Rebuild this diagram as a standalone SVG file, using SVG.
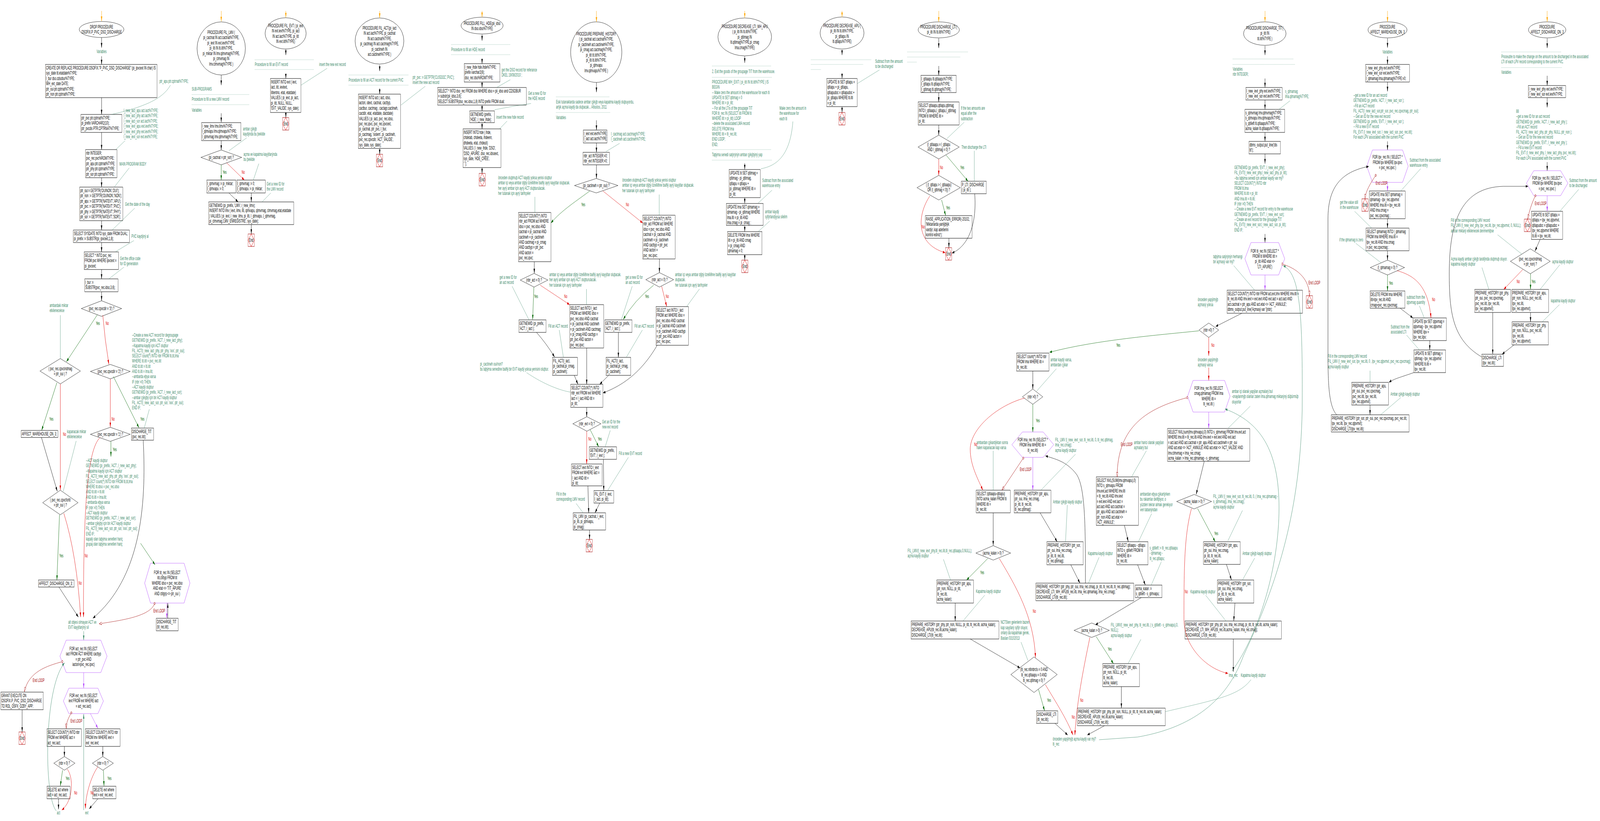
<svg xmlns="http://www.w3.org/2000/svg" width="7876" height="2102" viewBox="0 0 7876 2102" preserveAspectRatio="none" style="width:100vw;height:100vh">
<style>
text{font-family:"Liberation Sans",Arial,sans-serif;font-size:12px;fill:#000}
.c{fill:#3c8a6a}
.m{text-anchor:middle}
.y{fill:#006400}
.r{fill:#e00000}
.el{fill:#a00000}
.b{fill:#fff;stroke:#000;stroke-width:1}
.hx{fill:#fff;stroke:#b347ff;stroke-width:1}
.en{fill:#fff;stroke:#a00000}
.ed{fill:none;stroke:#e00000}
.a{fill:none;stroke:#000;marker-end:url(#ab)}
.ag{fill:none;stroke:#006400;marker-end:url(#ag)}
.ar{fill:none;stroke:#e00000;marker-end:url(#ar)}
.ap{fill:none;stroke:#b347ff;marker-end:url(#ap)}
.ao{fill:none;stroke:#ffa500;stroke-width:1.5;marker-end:url(#ao)}
.at{fill:none;stroke:#3c8a6a;marker-end:url(#at)}
.cl{fill:none;stroke:#3c8a6a;stroke-width:.8}
.dl{fill:none;stroke:#3c8a6a;stroke-width:.8;stroke-dasharray:2 2}
.lp{fill:none;stroke:#a00000;marker-start:url(#lc);marker-end:url(#lo)}
</style>
<defs>
<marker id="ab" viewBox="0 0 12 8" refX="12" refY="4" markerWidth="12" markerHeight="8" orient="auto" markerUnits="userSpaceOnUse"><path d="M0,0.5 L12,4 L0,7.5 z" fill="#000"/></marker>
<marker id="ag" viewBox="0 0 12 8" refX="12" refY="4" markerWidth="12" markerHeight="8" orient="auto" markerUnits="userSpaceOnUse"><path d="M0,0.5 L12,4 L0,7.5 z" fill="#006400"/></marker>
<marker id="ar" viewBox="0 0 12 8" refX="12" refY="4" markerWidth="12" markerHeight="8" orient="auto" markerUnits="userSpaceOnUse"><path d="M0,0.5 L12,4 L0,7.5 z" fill="#e00000"/></marker>
<marker id="ap" viewBox="0 0 12 8" refX="12" refY="4" markerWidth="12" markerHeight="8" orient="auto" markerUnits="userSpaceOnUse"><path d="M0,0.5 L12,4 L0,7.5 z" fill="#b347ff"/></marker>
<marker id="ao" viewBox="0 0 12 8" refX="12" refY="4" markerWidth="12" markerHeight="8" orient="auto" markerUnits="userSpaceOnUse"><path d="M0,0.5 L12,4 L0,7.5 z" fill="#ffa500"/></marker>
<marker id="at" viewBox="0 0 12 8" refX="12" refY="4" markerWidth="12" markerHeight="8" orient="auto" markerUnits="userSpaceOnUse"><path d="M0,0.5 L12,4 L0,7.5 z" fill="#3c8a6a"/></marker>
<marker id="lo" viewBox="0 0 12 8" refX="12" refY="4" markerWidth="12" markerHeight="8" orient="auto" markerUnits="userSpaceOnUse"><path d="M0.5,0.5 L12,4 L0.5,7.5 z" fill="#fff" stroke="#a00000"/></marker>
<marker id="lc" viewBox="0 0 8 8" refX="4" refY="4" markerWidth="8" markerHeight="8" orient="auto" markerUnits="userSpaceOnUse"><circle cx="4" cy="4" r="3" fill="#fff" stroke="#a00000"/></marker>
</defs>
<rect width="7876" height="2102" fill="#fff"/>

<!-- ===================== F1 DROP PROCEDURE ===================== -->
<g id="f1-start"><ellipse class="b" cx="500" cy="75.5" rx="110" ry="20.5"/><text class="m" x="500" y="73">DROP PROCEDURE<tspan x="500" dy="13">OSOFIX.P_PVC_DSO_DISCHARGE</tspan></text></g>
<g id="f1-var"><text class="c m" x="500" y="136">Variables</text></g>
<g id="f1-n1"><rect class="b" x="224" y="165" width="549" height="85"/><text x="227" y="178">CREATE OR REPLACE PROCEDURE OSOFIX."P_PVC_DSO_DISCHARGE" (pi_ipvcext IN char) IS<tspan x="227" dy="13.4">sys_date  tit.etatdate%TYPE;</tspan><tspan x="227" dy="13.4">l_bur dso.cdsobur%TYPE;</tspan><tspan x="227" dy="13.4">WH_ext_date DATE;</tspan><tspan x="227" dy="13.4">ptr_oui ptr.cptrnat%TYPE;</tspan><tspan x="227" dy="13.4">ptr_non ptr.cptrnat%TYPE;</tspan></text></g>
<g id="f1-c1"><text class="c" x="785" y="212">ptr_apu ptr.cptrnat%TYPE;</text></g>
<g id="f1-n2"><rect class="b" x="398" y="293" width="202" height="46"/><text x="401" y="306">ptr_pvc ptr.cptrnat%TYPE;<tspan x="401" dy="13.4">pi_prefix VARCHAR2(10);</tspan><tspan x="401" dy="13.4">ptr_pvcdis  PTR.CPTRNAT%TYPE;</tspan></text></g>
<g id="f1-c2"><text class="c" x="609" y="287">l_new_iact_apu  act.iact%TYPE;<tspan x="609" dy="13.4">l_new_iact_phy  act.iact%TYPE;</tspan><tspan x="609" dy="13.4">l_new_iact_sor  act.iact%TYPE;</tspan><tspan x="609" dy="13.4">l_new_ievt_apu  evt.ievt%TYPE;</tspan><tspan x="609" dy="13.4">l_new_ievt_phy  evt.ievt%TYPE;</tspan><tspan x="609" dy="13.4">l_new_ievt_sor  evt.ievt%TYPE;</tspan></text></g>
<g id="f1-n3"><rect class="b" x="421" y="383" width="155" height="72"/><text x="424" y="396">nbr INTEGER;<tspan x="424" dy="13.4">pvc_rec pvc%ROWTYPE;</tspan><tspan x="424" dy="13.4">ptr_apu ptr.cptrnat%TYPE;</tspan><tspan x="424" dy="13.4">ptr_phy ptr.cptrnat%TYPE;</tspan><tspan x="424" dy="13.4">ptr_sor ptr.cptrnat%TYPE;</tspan></text></g>
<g id="f1-c3"><text class="c" x="588" y="424">MAIN PROGRAM BODY</text></g>
<g id="f1-n4"><rect class="b" x="392" y="479" width="213" height="86"/><text x="395" y="492">ptr_oui:= GETPTR('OUINON','OUI');<tspan x="395" dy="13.4">ptr_non := GETPTR('OUINON','NON');</tspan><tspan x="395" dy="13.4">ptr_apu := GETPTR('NATEVT','APU');</tspan><tspan x="395" dy="13.4">ptr_pvc := GETPTR('NATEVT','PVC');</tspan><tspan x="395" dy="13.4">ptr_phy := GETPTR('NATEVT','PHY');</tspan><tspan x="395" dy="13.4">ptr_sor := GETPTR('NATEVT','SOR');</tspan></text></g>
<g id="f1-c4"><text class="c" x="616" y="527">Get the date of the day</text></g>
<g id="f1-n5"><rect class="b" x="361" y="589" width="276" height="32"/><text x="364" y="602">SELECT SYSDATE INTO sys_date FROM DUAL;<tspan x="364" dy="13.4">pi_prefix := SUBSTR(pi_ipvcext,1,8);</tspan></text></g>
<g id="f1-c5"><text class="c" x="647" y="609">PVC kaydýný al</text></g>
<g id="f1-n6"><rect class="b" x="414" y="645" width="170" height="45"/><text x="417" y="658">SELECT * INTO  pvc_rec<tspan x="417" dy="13.4">FROM  pvc WHERE ipvcext =</tspan><tspan x="417" dy="13.4">pi_ipvcext;</tspan></text></g>
<g id="f1-c6"><text class="c" x="591" y="666">Get the office code<tspan x="591" dy="13.4">for ID generation</tspan></text></g>
<g id="f1-n7"><rect class="b" x="417" y="714" width="164" height="33"/><text x="420" y="727">l_bur :=<tspan x="420" dy="13.4">SUBSTR(pvc_rec.idso,3,6);</tspan></text></g>
<g id="f1-d1"><polygon class="b" points="500,770 599,790 500,810 400,790"/><text class="m" x="500" y="794">(pvc_rec.cpvcdir = '3') ?</text></g>
<g id="f1-c7"><text class="c" x="244" y="786">ambardaki miktar<tspan x="244" dy="13.4">etkilenecekse</tspan></text></g>
<g id="f1-d2"><polygon class="b" points="297,918 396,950 297,983 197,950"/><text class="m" x="297" y="948">( pvc_rec.cpvcindmag<tspan x="297" dy="13.4">= ptr_oui ) ?</tspan></text></g>
<g id="f1-d3"><polygon class="b" points="543,933 641,951 543,970 445,951"/><text class="m" x="543" y="955">(pvc_rec.cpvcdir = '2') ?</text></g>
<g id="f1-c8"><text class="c" x="650" y="862">--Create a new ACT record for degroupage<tspan x="650" dy="13.3">GETNEWID (pi_prefix, 'ACT', l_new_iact_phy);</tspan><tspan x="650" dy="13.3">--Kapatma kaydý için ACT oluþtur</tspan><tspan x="650" dy="13.3">FIL_ACT(l_new_iact_phy, ptr_phy, 'xxx', ptr_oui);</tspan><tspan x="650" dy="13.3">SELECT count(*) INTO nbr FROM  lti,tit,lma</tspan><tspan x="650" dy="13.3">WHERE tit.itit = pvc_rec.itit</tspan><tspan x="650" dy="13.3">AND   tit.itit = lti.itit</tspan><tspan x="650" dy="13.3">AND   lti.ilti = lma.ilti;</tspan><tspan x="650" dy="13.3">--ambarda eþya varsa</tspan><tspan x="650" dy="13.3">IF (nbr &gt;0) THEN</tspan><tspan x="650" dy="13.3">--ACT kaydý oluþtur</tspan><tspan x="650" dy="13.3">GETNEWID (pi_prefix, 'ACT', l_new_iact_sor);</tspan><tspan x="650" dy="13.3">--ambar çýkýþý için bir ACT kaydý oluþtur</tspan><tspan x="650" dy="13.3">FIL_ACT(l_new_iact_sor, ptr_sor, 'xxx', ptr_oui);</tspan><tspan x="650" dy="13.3">END IF;</tspan></text></g>
<g id="f1-n8"><rect class="b" x="104" y="1102" width="181" height="18"/><text x="107" y="1115">AFFECT_WAREHOUSE_ON_3;</text></g>
<g id="f1-c9"><text class="c" x="330" y="1109">kapanacak miktar<tspan x="330" dy="13.4">etkilenecekse</tspan></text></g>
<g id="f1-d4"><polygon class="b" points="297,1255 384,1287 297,1318 210,1287"/><text class="m" x="297" y="1284">( pvc_rec.cpvcfortit<tspan x="297" dy="13.4">= ptr_oui ) ?</tspan></text></g>
<g id="f1-n9"><rect class="b" x="189" y="1485" width="176" height="18"/><text x="192" y="1498">AFFECT_DISCHARGE_ON_3;</text></g>
<g id="f1-d5"><polygon class="b" points="543,1094 641,1112 543,1130 445,1112"/><text class="m" x="543" y="1116">(pvc_rec.cpvcdir = '1') ?</text></g>
<g id="f1-c10"><text class="c" x="423" y="1183">--ACT kaydý oluþtur<tspan x="423" dy="13.4">GETNEWID (pi_prefix, 'ACT', l_new_iact_phy);</tspan><tspan x="423" dy="13.4">--Kapatma kaydý için ACT oluþtur</tspan><tspan x="423" dy="13.4">FIL_ACT(l_new_iact_phy, ptr_phy, 'xxx', ptr_oui);</tspan><tspan x="423" dy="13.4">SELECT count(*) INTO nbr FROM  lti,tit,lma</tspan><tspan x="423" dy="13.4">WHERE tit.idso = pvc_rec.idso</tspan><tspan x="423" dy="13.4">AND   tit.itit = lti.itit</tspan><tspan x="423" dy="13.4">AND   lti.ilti = lma.ilti;</tspan><tspan x="423" dy="13.4">--ambarda eþya varsa</tspan><tspan x="423" dy="13.4">IF (nbr &gt;0) THEN</tspan><tspan x="423" dy="13.4">--ACT kaydý oluþtur</tspan><tspan x="423" dy="13.4">GETNEWID (pi_prefix, 'ACT', l_new_iact_sor);</tspan><tspan x="423" dy="13.4">--ambar çýkýþý için bir ACT kaydý oluþtur</tspan><tspan x="423" dy="13.4">FIL_ACT(l_new_iact_sor, ptr_sor, 'xxx', ptr_oui);</tspan><tspan x="423" dy="13.4">END IF;</tspan><tspan x="423" dy="13.4">kapalý olan taþýma senetleri hariç</tspan><tspan x="423" dy="13.4">grupaj olan taþýma senetleri hariç</tspan></text></g>
<g id="f1-n10"><rect class="b" x="647" y="1096" width="109" height="31"/><text x="650" y="1109">DISCHARGE_TIT<tspan x="650" dy="13.4">(pvc_rec.itit);</tspan></text></g>
<g id="f1-h1"><polygon class="hx" points="712,1493 741,1442 906,1442 935,1493 906,1544 741,1544"/><text class="m" x="823" y="1470">FOR tit_rec IN (SELECT<tspan x="823" dy="13.5">itit,ctittyp  FROM tit</tspan><tspan x="823" dy="13.5">WHERE idso = pvc_rec.idso</tspan><tspan x="823" dy="13.5">AND etat &lt;&gt; 'TIT_APURE'</tspan><tspan x="823" dy="13.5">AND ctitgrp &lt;&gt; ptr_oui )</tspan></text></g>
<g id="f1-n11"><rect class="b" x="769" y="1583" width="108" height="32"/><text x="772" y="1596">DISCHARGE_TIT<tspan x="772" dy="13.4">(tit_rec.itit);</tspan></text></g>
<g id="f1-c11"><text class="c" x="336" y="1597">alt objesi olmayan ACT ve<tspan x="336" dy="13.4">EVT kayýtlarýný sil</tspan></text></g>
<g id="f1-h2"><polygon class="hx" points="295,1680 326,1639 496,1639 527,1680 496,1722 326,1722"/><text class="m" x="411" y="1665">FOR act_rec IN (SELECT<tspan x="411" dy="13.4">iact FROM ACT WHERE cacttyp</tspan><tspan x="411" dy="13.4">= ptr_pvc AND</tspan><tspan x="411" dy="13.4">iactori=pvc_rec.ipvc)</tspan></text></g>
<g id="f1-n12"><rect class="b" x="4" y="1772" width="209" height="45"/><text x="7" y="1785">GRANT EXECUTE ON<tspan x="7" dy="13.4">OSOFIX.P_PVC_DSO_DISCHARGE</tspan><tspan x="7" dy="13.4">TO ROL_OSFX_OZBY_APP;</tspan></text></g>
<g id="f1-end"><rect class="en" x="93" y="1874" width="31" height="32"/><polygon class="ed" points="108.5,1874 124,1890 108.5,1906 93,1890"/><text class="m" x="108.5" y="1894">End</text></g>
<g id="f1-h3"><polygon class="hx" points="312,1795 339,1762 482,1762 509,1795 482,1827 339,1827"/><text class="m" x="411" y="1785">FOR evt_rec IN (SELECT<tspan x="411" dy="13.4">ievt FROM evt WHERE iact</tspan><tspan x="411" dy="13.4">= act_rec.iact)</tspan></text></g>
<g id="f1-n13"><rect class="b" x="231" y="1866" width="170" height="45"/><text x="234" y="1879">SELECT COUNT(*) INTO nbr<tspan x="234" dy="13.4">FROM evt WHERE iact =</tspan><tspan x="234" dy="13.4">act_rec.iact;</tspan></text></g>
<g id="f1-n14"><rect class="b" x="420" y="1866" width="171" height="45"/><text x="423" y="1879">SELECT COUNT(*) INTO nbr<tspan x="423" dy="13.4">FROM lmv WHERE ievt =</tspan><tspan x="423" dy="13.4">evt_rec.ievt;</tspan></text></g>
<g id="f1-d6"><polygon class="b" points="317,1937 369,1954 317,1972 265,1954"/><text class="m" x="317" y="1958">(nbr = 0) ?</text></g>
<g id="f1-d7"><polygon class="b" points="506,1937 558,1954 506,1972 455,1954"/><text class="m" x="506" y="1958">(nbr = 0) ?</text></g>
<g id="f1-n15"><rect class="b" x="231" y="2013" width="114" height="32"/><text x="234" y="2026">DELETE act where<tspan x="234" dy="13.4">iact = act_rec.iact;</tspan></text></g>
<g id="f1-n16"><rect class="b" x="457" y="2013" width="114" height="32"/><text x="460" y="2026">DELETE evt where<tspan x="460" dy="13.4">ievt = evt_rec.ievt;</tspan></text></g>
<g id="f1-l1"><text class="c m" x="288" y="2085">act</text></g>
<g id="f1-l2"><text class="c m" x="427" y="2085">evt</text></g>

<!-- ===================== F2 FIL_LMV ===================== -->
<g id="f2-start"><ellipse class="b" cx="1089" cy="124" rx="119" ry="68"/><text class="m" x="1089" y="87">PROCEDURE FIL_LMV (<tspan x="1089" dy="13.5">pi_cactnat IN act.cactnat%TYPE,</tspan><tspan x="1089" dy="13.5">pi_ievt  IN evt.ievt%TYPE,</tspan><tspan x="1089" dy="13.5">pi_ilti  IN lti.ilti%TYPE,</tspan><tspan x="1089" dy="13.5">pi_miktar  IN lmv.qlmvmag%TYPE,</tspan><tspan x="1089" dy="13.5">pi_clmvmag IN</tspan><tspan x="1089" dy="13.5">lmv.clmvmag%TYPE )</tspan></text></g>
<g id="f2-c0"><text class="c" x="944" y="232">SUB-PROGRAMS</text><line class="dl" x1="944" y1="242" x2="1227" y2="242"/><text class="c" x="944" y="258">Procedure to fill a new LMV record</text><line class="dl" x1="944" y1="268" x2="1227" y2="268"/><text class="c" x="944" y="286">Variables</text></g>
<g id="f2-n1"><rect class="b" x="992" y="314" width="194" height="46"/><text x="995" y="327">l_new_ilmv  lmv.ilmv%TYPE;<tspan x="995" dy="13.4">l_qlmvapu lmv.qlmvapu%TYPE;</tspan><tspan x="995" dy="13.4">l_qlmvmag lmv.qlmvmag%TYPE;</tspan></text></g>
<g id="f2-c1"><text class="c" x="1196" y="334">ambar çýkýþ<tspan x="1196" dy="13.4">kaydýnda bu þekilde</tspan></text></g>
<g id="f2-d1"><polygon class="b" points="1089,384 1190,403 1089,422 989,403"/><text class="m" x="1089" y="407">(pi_cactnat = ptr_sor) ?</text></g>
<g id="f2-c2"><text class="c" x="1199" y="399">açma ve kapatma kayýtlarýnda<tspan x="1199" dy="13.4">bu þekilde</tspan></text></g>
<g id="f2-n2"><rect class="b" x="1018" y="461" width="143" height="33"/><text x="1021" y="474">l_qlmvmag := pi_miktar;<tspan x="1021" dy="13.4">l_qlmvapu := 0;</tspan></text></g>
<g id="f2-n3"><rect class="b" x="1166" y="461" width="140" height="33"/><text x="1169" y="474">l_qlmvmag := 0;<tspan x="1169" dy="13.4">l_qlmvapu := pi_miktar;</tspan></text></g>
<g id="f2-c3"><text class="c" x="1313" y="475">Get a new ID for<tspan x="1313" dy="13.4">the LMV record</tspan></text></g>
<g id="f2-n4"><rect class="b" x="1027" y="517" width="419" height="58"/><text x="1030" y="530">GETNEWID (pi_prefix, 'LMV', l_new_ilmv);<tspan x="1030" dy="13.4">INSERT INTO lmv ( ievt, ilmv, ilti, qlmvapu, qlmvmag, clmvmag,etat,etatdate</tspan><tspan x="1030" dy="13.4">) VALUES ( pi_ievt, l_new_ilmv, pi_ilti, l_qlmvapu ,l_qlmvmag,</tspan><tspan x="1030" dy="13.4">pi_clmvmag,'LMV_ENREGISTRE', sys_date);</tspan></text></g>
<g id="f2-end"><rect class="en" x="1221" y="599" width="31" height="32"/><polygon class="ed" points="1236.5,599 1252,615 1236.5,631 1221,615"/><text class="m" x="1236.5" y="619">End</text></g>

<!-- ===================== F3 FIL_EVT ===================== -->
<g id="f3-start"><ellipse class="b" cx="1406" cy="85.5" rx="101" ry="40"/><text class="m" x="1406" y="70">PROCEDURE FIL_EVT ( pi_ievt<tspan x="1406" dy="13.3">IN evt.ievt%TYPE, pi_iact</tspan><tspan x="1406" dy="13.3">IN act.iact%TYPE, pi_itit</tspan><tspan x="1406" dy="13.3">IN evt.itit%TYPE)</tspan></text></g>
<g id="f3-c0"><line class="dl" x1="1254" y1="153" x2="1545" y2="153"/><text class="c" x="1254" y="169">Procedure to fill an EVT record</text><line class="dl" x1="1254" y1="178" x2="1545" y2="178"/></g>
<g id="f3-c1"><text class="c" x="1571" y="169">insert the new evt record</text></g>
<g id="f3-n1"><rect class="b" x="1331" y="201" width="150" height="87"/><text x="1334" y="214">INSERT INTO evt ( ievt,<tspan x="1334" dy="13.4">iact, itit, ievtext,</tspan><tspan x="1334" dy="13.4">ititentno, etat, etatdate)</tspan><tspan x="1334" dy="13.4">VALUES ( pi_ievt, pi_iact,</tspan><tspan x="1334" dy="13.4">pi_itit, NULL, NULL,</tspan><tspan x="1334" dy="13.4">'EVT_VALIDE', sys_date);</tspan></text></g>
<g id="f3-end"><rect class="en" x="1391" y="301" width="31" height="32"/><polygon class="ed" points="1406.5,301 1422,317 1406.5,333 1391,317"/><text class="m" x="1406.5" y="321">End</text></g>

<!-- ===================== F4 FIL_ACT ===================== -->
<g id="f4-start"><ellipse class="b" cx="1868" cy="105" rx="120" ry="59"/><text class="m" x="1868" y="76">PROCEDURE FIL_ACT(pi_iact<tspan x="1868" dy="13.4">IN act.iact%TYPE, pi_cactnat</tspan><tspan x="1868" dy="13.4">IN act.cactnat%TYPE,</tspan><tspan x="1868" dy="13.4">pi_cactmag  IN act.cactmag%TYPE,</tspan><tspan x="1868" dy="13.4">pi_cactinwh IN</tspan><tspan x="1868" dy="13.4">act.cactinwh%TYPE )</tspan></text></g>
<g id="f4-c0"><line class="dl" x1="1716" y1="192" x2="2011" y2="192"/><text class="c" x="1716" y="209">Procedure to fill an ACT  record for the current PVC</text><line class="dl" x1="1716" y1="218" x2="2011" y2="218"/></g>
<g id="f4-n1"><rect class="b" x="1764" y="241" width="208" height="139"/><text x="1767" y="254">INSERT INTO act ( iact, idso,<tspan x="1767" dy="13.4">iactori, idext, cactnat, cacttyp,</tspan><tspan x="1767" dy="13.4">cactbur, cactmag , cactagr,cactinwh,</tspan><tspan x="1767" dy="13.4">cactdir, etat, etatdate, dactdate)</tspan><tspan x="1767" dy="13.4">VALUES ( pi_iact, pvc_rec.idso,</tspan><tspan x="1767" dy="13.4">pvc_rec.ipvc, pvc_rec.ipvcext,</tspan><tspan x="1767" dy="13.4">pi_cactnat, ptr_pvc, l_bur,</tspan><tspan x="1767" dy="13.4">pi_cactmag, 'sistem', pi_cactinwh,</tspan><tspan x="1767" dy="13.4">pvc_rec.cpvcdir, 'ACT_VALIDE',</tspan><tspan x="1767" dy="13.4">sys_date, sys_date);</tspan></text></g>
<g id="f4-c1"><text class="c" x="2031" y="202">ptr_pvc := GETPTR('CUSDOC','PVC');<tspan x="2031" dy="13.4">insert the new act record</tspan></text></g>
<g id="f4-end"><rect class="en" x="1853" y="395" width="31" height="32"/><polygon class="ed" points="1868.5,395 1884,411 1868.5,427 1853,411"/><text class="m" x="1868.5" y="415">End</text></g>

<!-- ===================== F5 FILL_HDE ===================== -->
<g id="f5-start"><ellipse class="b" cx="2373" cy="65.5" rx="103.5" ry="21.5"/><text class="m" x="2373" y="64">PROCEDURE FILL_HDE(pii_idso<tspan x="2373" dy="13.4">IN dso.idso%TYPE)</tspan></text></g>
<g id="f5-c0"><line class="dl" x1="2221" y1="114" x2="2512" y2="114"/><text class="c" x="2221" y="131">Procedure to fill an HDE record</text><line class="dl" x1="2221" y1="140" x2="2512" y2="140"/></g>
<g id="f5-n1"><rect class="b" x="2285" y="163" width="176" height="47"/><text x="2288" y="176">l_new_ihde  hde.ihde%TYPE;<tspan x="2288" dy="13.4">prefix  varchar2(8);</tspan><tspan x="2288" dy="13.4">dso_rec dso%ROWTYPE;</tspan></text></g>
<g id="f5-c1"><text class="c" x="2469" y="183">get the  DSO record for referance<tspan x="2469" dy="13.4">DKEL 19/08/2010 ;</tspan></text></g>
<g id="f5-n2"><rect class="b" x="2154" y="224" width="437" height="45"/><text x="2157" y="237">SELECT *  INTO  dso_rec FROM  dso WHERE idso = pii_idso and CDSOBUR<tspan x="2157" dy="13.4">= substr(pii_idso,3,6);</tspan><tspan x="2157" dy="13.4">SELECT SUBSTR(dso_rec.idso,1,8) INTO  prefix FROM  dual;</tspan></text></g>
<g id="f5-c2"><text class="c" x="2600" y="243">Get a new ID for<tspan x="2600" dy="13.4">the HDE record</tspan></text></g>
<g id="f5-n3"><rect class="b" x="2312" y="284" width="122" height="30"/><text x="2315" y="297">GETNEWID (prefix,<tspan x="2315" dy="13.4">'HDE', l_new_ihde);</tspan></text></g>
<g id="f5-c3"><text class="c" x="2443" y="304">insert the new hde record</text></g>
<g id="f5-n4"><rect class="b" x="2279" y="330" width="187" height="99"/><text x="2282" y="343">INSERT INTO hde ( ihde,<tspan x="2282" dy="13.4">chdetab, chdeeta, ihdeenr,</tspan><tspan x="2282" dy="13.4">dhdeeta, etat, chdeuti)</tspan><tspan x="2282" dy="13.4">VALUES ( l_new_ihde, 'DSO',</tspan><tspan x="2282" dy="13.4">'DSO_APURE', dso_rec.idsoext,</tspan><tspan x="2282" dy="13.4">sys_date, 'HDE_CREE',</tspan><tspan x="2282" dy="13.4">' ');</tspan></text></g>
<g id="f5-end"><rect class="en" x="2358" y="444" width="31" height="32"/><polygon class="ed" points="2373.5,444 2389,460 2373.5,476 2358,460"/><text class="m" x="2373.5" y="464">End</text></g>

<!-- ===================== F6 PREPARE_HISTORY ===================== -->
<g id="f6-start"><ellipse class="b" cx="2935" cy="133.5" rx="126" ry="77.5"/><text class="m" x="2935" y="91">PROCEDURE PREPARE_HISTORY<tspan x="2935" dy="13.4">( pi_cactnat act.cactnat%TYPE,</tspan><tspan x="2935" dy="13.4">pi_cactinwh act.cactinwh%TYPE,</tspan><tspan x="2935" dy="13.4">pi_cmag  act.cactmag%TYPE,</tspan><tspan x="2935" dy="13.4">pi_itit tit.itit%TYPE,</tspan><tspan x="2935" dy="13.4">pi_ilti lti.ilti%TYPE,</tspan><tspan x="2935" dy="13.4">pi_qlmvapu</tspan><tspan x="2935" dy="13.4">lmv.qlmvapu%TYPE )</tspan></text></g>
<g id="f6-c0"><line class="dl" x1="2737" y1="248" x2="3001" y2="248"/><text class="c" x="2737" y="265">Eski tutanaklarda sadece ambar çýkýþ veya kapatma kaydý oluþuyordu,<tspan x="2737" dy="13.4">artýk açma kaydý da oluþacak... Aðustos, 2011</tspan></text><line class="dl" x1="2737" y1="288" x2="3005" y2="288"/><text class="c" x="2737" y="305">Variables</text></g>
<g id="f6-n1"><rect class="b" x="2871" y="333" width="117" height="33"/><text x="2874" y="346">l_ievt  evt.ievt%TYPE;<tspan x="2874" dy="13.4">l_iact act.iact%TYPE;</tspan></text></g>
<g id="f6-c1"><text class="c" x="3008" y="347">l_cactmag act.cactmag%TYPE;<tspan x="3008" dy="13.4">l_cactinwh  act.cactinwh%TYPE;</tspan></text></g>
<g id="f6-n2"><rect class="b" x="2870" y="390" width="130" height="32"/><text x="2873" y="403">nbr_act INTEGER:=0;<tspan x="2873" dy="13.4">nbr_evt INTEGER:=0;</tspan></text></g>
<g id="f6-d1"><polygon class="b" points="2935,457 3042,475 2935,494 2828,475"/><text class="m" x="2935" y="479">(pi_cactinwh = ptr_oui) ?</text></g>
<g id="f6-c2"><text class="c" x="3063" y="465">önceden oluþmuþ ACT kaydý yoksa yenisi oluþtur<tspan x="3063" dy="13.4">ambar içi veya ambar dýþý özelliðine baðlý ayrý kayýtlar oluþacak.</tspan><tspan x="3063" dy="13.4">her tutanak için ayrý tarihçeler</tspan></text></g>
<g id="f6-n3"><rect class="b" x="3164" y="551" width="160" height="112"/><text x="3167" y="564">SELECT COUNT(*) INTO<tspan x="3167" dy="13.4">nbr_act FROM  act WHERE</tspan><tspan x="3167" dy="13.4">idso = pvc_rec.idso AND</tspan><tspan x="3167" dy="13.4">cactnat  = pi_cactnat AND</tspan><tspan x="3167" dy="13.4">cactinwh = pi_cactinwh</tspan><tspan x="3167" dy="13.4">AND cacttyp  = ptr_pvc</tspan><tspan x="3167" dy="13.4">AND iactori  =</tspan><tspan x="3167" dy="13.4">pvc_rec.ipvc;</tspan></text></g>
<g id="f6-c3"><text class="c" x="2452" y="459">önceden oluþmuþ ACT kaydý yoksa yenisi oluþtur<tspan x="2452" dy="13.4">ambar içi veya ambar dýþý özelliðine baðlý ayrý kayýtlar oluþacak.</tspan><tspan x="2452" dy="13.4">her ayrý ambar için ayrý ACT oluþturulacak.</tspan><tspan x="2452" dy="13.4">her tutanak için ayrý tarihçeler</tspan></text></g>
<g id="f6-n4"><rect class="b" x="2552" y="544" width="160" height="126"/><text x="2555" y="557">SELECT COUNT(*) INTO<tspan x="2555" dy="13.4">nbr_act FROM  act WHERE</tspan><tspan x="2555" dy="13.4">idso = pvc_rec.idso AND</tspan><tspan x="2555" dy="13.4">cactnat  = pi_cactnat AND</tspan><tspan x="2555" dy="13.4">cactinwh = pi_cactinwh</tspan><tspan x="2555" dy="13.4">AND cactmag  = pi_cmag</tspan><tspan x="2555" dy="13.4">AND cacttyp  = ptr_pvc</tspan><tspan x="2555" dy="13.4">AND iactori  =</tspan><tspan x="2555" dy="13.4">pvc_rec.ipvc;</tspan></text></g>
<g id="f6-d2"><polygon class="b" points="2629,700 2697,717 2629,735 2561,717"/><text class="m" x="2629" y="721">(nbr_act = 0) ?</text></g>
<g id="f6-c4"><text class="c" x="2459" y="714">get a new ID for<tspan x="2459" dy="13.4">an act record</tspan></text></g>
<g id="f6-c5"><text class="c" x="2704" y="707">ambar içi veya ambar dýþý özelliðine baðlý ayrý kayýtlar oluþacak.<tspan x="2704" dy="13.4">her ayrý ambar için ayrý ACT oluþturulacak.</tspan><tspan x="2704" dy="13.4">her tutanak için ayrý tarihçeler</tspan></text></g>
<g id="f6-n5"><rect class="b" x="2554" y="819" width="134" height="32"/><text x="2557" y="832">GETNEWID (pi_prefix,<tspan x="2557" dy="13.4">'ACT', l_iact );</tspan></text></g>
<g id="f6-c6"><text class="c" x="2699" y="839">Fill an ACT record</text></g>
<g id="f6-n6"><rect class="b" x="2720" y="915" width="123" height="46"/><text x="2723" y="928">FIL_ACT(l_iact,<tspan x="2723" dy="13.4">pi_cactnat,pi_cmag,</tspan><tspan x="2723" dy="13.4">pi_cactinwh);</tspan></text></g>
<g id="f6-n7"><rect class="b" x="2804" y="780" width="168" height="111"/><text x="2807" y="793">SELECT iact INTO  l_iact<tspan x="2807" dy="13.4">FROM  act WHERE idso =</tspan><tspan x="2807" dy="13.4">pvc_rec.idso AND cactnat</tspan><tspan x="2807" dy="13.4">= pi_cactnat AND cactinwh</tspan><tspan x="2807" dy="13.4">= pi_cactinwh  AND cactmag</tspan><tspan x="2807" dy="13.4">= pi_cmag  AND cacttyp  =</tspan><tspan x="2807" dy="13.4">ptr_pvc  AND iactori  =</tspan><tspan x="2807" dy="13.4">pvc_rec.ipvc;</tspan></text></g>
<g id="f6-d3"><polygon class="b" points="3246,698 3316,716 3246,735 3179,716"/><text class="m" x="3247" y="720">(nbr_act = 0) ?</text></g>
<g id="f6-c7"><text class="c" x="3079" y="714">get a new ID for<tspan x="3079" dy="13.4">an act record</tspan></text></g>
<g id="f6-c8"><text class="c" x="3323" y="707">ambar içi veya ambar dýþý özelliðine baðlý ayrý kayýtlar<tspan x="3323" dy="13.4">oluþacak.</tspan><tspan x="3323" dy="13.4">her tutanak için ayrý tarihçeler</tspan></text></g>
<g id="f6-n8"><rect class="b" x="2977" y="819" width="134" height="32"/><text x="2980" y="832">GETNEWID (pi_prefix,<tspan x="2980" dy="13.4">'ACT', l_iact );</tspan></text></g>
<g id="f6-c9"><text class="c" x="3123" y="839">Fill an ACT record</text></g>
<g id="f6-n9"><rect class="b" x="2983" y="915" width="122" height="46"/><text x="2986" y="928">FIL_ACT(l_iact,<tspan x="2986" dy="13.4">pi_cactnat,pi_cmag,</tspan><tspan x="2986" dy="13.4">pi_cactinwh);</tspan></text></g>
<g id="f6-n10"><rect class="b" x="3229" y="785" width="160" height="99"/><text x="3232" y="798">SELECT iact INTO  l_iact<tspan x="3232" dy="13.4">FROM  act WHERE idso =</tspan><tspan x="3232" dy="13.4">pvc_rec.idso AND cactnat</tspan><tspan x="3232" dy="13.4">= pi_cactnat AND cactinwh</tspan><tspan x="3232" dy="13.4">= pi_cactinwh  AND cacttyp</tspan><tspan x="3232" dy="13.4">= ptr_pvc  AND iactori =</tspan><tspan x="3232" dy="13.4">pvc_rec.ipvc;</tspan></text></g>
<g id="f6-c13"><text class="c" x="2363" y="936">pi_cactinwh oui/non?<tspan x="2363" dy="13.4">bu taþýma senedine baðlý bir EVT kaydý yoksa yenisini oluþtur.</tspan></text></g>
<g id="f6-n11"><rect class="b" x="2809" y="984" width="159" height="59"/><text x="2812" y="997">SELECT COUNT(*) INTO<tspan x="2812" dy="13.4">nbr_evt FROM  evt WHERE</tspan><tspan x="2812" dy="13.4">iact = l_iact AND itit =</tspan><tspan x="2812" dy="13.4">pi_itit;</tspan></text></g>
<g id="f6-d4"><polygon class="b" points="2889,1067 2958,1085 2889,1104 2820,1085"/><text class="m" x="2889" y="1089">(nbr_evt = 0) ?</text></g>
<g id="f6-c10"><text class="c" x="2964" y="1084">Get an ID for the<tspan x="2964" dy="13.4">new evt record</tspan></text></g>
<g id="f6-n12"><rect class="b" x="2901" y="1144" width="134" height="32"/><text x="2904" y="1157">GETNEWID (pi_prefix,<tspan x="2904" dy="13.4">'EVT', l_ievt );</tspan></text></g>
<g id="f6-c11"><text class="c" x="3046" y="1165">Fill a new EVT record</text></g>
<g id="f6-n13"><rect class="b" x="2813" y="1188" width="151" height="56"/><text x="2816" y="1201">SELECT ievt  INTO  l_ievt<tspan x="2816" dy="13.4">FROM  evt WHERE iact =</tspan><tspan x="2816" dy="13.4">l_iact AND itit =</tspan><tspan x="2816" dy="13.4">pi_itit;</tspan></text></g>
<g id="f6-n14"><rect class="b" x="2924" y="1256" width="97" height="32"/><text x="2927" y="1269">FIL_EVT (l_ievt,<tspan x="2927" dy="13.4">l_iact, pi_itit);</tspan></text></g>
<g id="f6-c12"><text class="c" x="2738" y="1269">Fill in the<tspan x="2738" dy="13.4">corresponding LMV record</tspan></text></g>
<g id="f6-n15"><rect class="b" x="2821" y="1313" width="160" height="44"/><text x="2824" y="1326">FIL_LMV (pi_cactnat, l_ievt,<tspan x="2824" dy="13.4">pi_ilti, pi_qlmvapu,</tspan><tspan x="2824" dy="13.4">pi_cmag);</tspan></text></g>
<g id="f6-end"><rect class="en" x="2885" y="1381" width="31" height="32"/><polygon class="ed" points="2900.5,1381 2916,1397 2900.5,1413 2885,1397"/><text class="m" x="2900.5" y="1401">End</text></g>

<!-- ===================== F7 DECREASE_LTI_WH_APU ===================== -->
<g id="f7-start"><ellipse class="b" cx="3666" cy="94.5" rx="132" ry="48.5"/><text class="m" x="3666" y="72">PROCEDURE DECREASE_LTI_WH_APU<tspan x="3666" dy="13.5">( pi_ilti IN lti.ilti%TYPE,</tspan><tspan x="3666" dy="13.5">pi_qltimag IN</tspan><tspan x="3666" dy="13.5">lti.qltimag%TYPE,pi_cmag</tspan><tspan x="3666" dy="13.5">lma.cmag%TYPE)</tspan></text></g>
<g id="f7-c0"><line class="dl" x1="3505" y1="169" x2="3796" y2="169"/><text class="c" x="3505" y="187">2. Exit the goods of the groupage TIT from the warehouse.</text><line class="dl" x1="3505" y1="198" x2="3800" y2="198"/><text class="c" x="3505" y="214">PROCEDURE WH_EXIT ( pi_itit IN tit.itit%TYPE ) IS<tspan x="3505" dy="13.3">BEGIN</tspan><tspan x="3505" dy="13.3">-- Make zero the amount in the warehouse for each lti</tspan><tspan x="3505" dy="13.3">UPDATE lti SET    qltimag = 0</tspan><tspan x="3505" dy="13.3">WHERE  itit    = pi_itit;</tspan><tspan x="3505" dy="13.3">-- For all the LTIs of the groupage TIT</tspan><tspan x="3505" dy="13.3">FOR lti_rec IN (SELECT  ilti  FROM  lti</tspan><tspan x="3505" dy="13.3">WHERE itit = pi_itit)  LOOP</tspan><tspan x="3505" dy="13.3">--delete the associated LMA record</tspan><tspan x="3505" dy="13.3">DELETE FROM  lma</tspan><tspan x="3505" dy="13.3">WHERE  ilti = lti_rec.ilti;</tspan><tspan x="3505" dy="13.3">END LOOP;</tspan><tspan x="3505" dy="13.3">END;</tspan></text><line class="dl" x1="3505" y1="383" x2="3796" y2="383"/><text class="c" x="3505" y="400">Taþýma senedi satýrýnýn ambar çýkýþýný yap</text><line class="dl" x1="3505" y1="410" x2="3800" y2="410"/></g>
<g id="f7-c1"><text class="c" x="3837" y="281">Make zero the amount in<tspan x="3837" dy="13.4">the warehouse for</tspan><tspan x="3837" dy="13.4">each lti</tspan></text></g>
<g id="f7-n1"><rect class="b" x="3589" y="434" width="154" height="72"/><text x="3592" y="447">UPDATE lti SET  qltimag =<tspan x="3592" dy="13.4">qltimag - pi_qltimag,</tspan><tspan x="3592" dy="13.4">qltiapu = qltiapu +</tspan><tspan x="3592" dy="13.4">pi_qltimag WHERE  ilti  =</tspan><tspan x="3592" dy="13.4">pi_ilti;</tspan></text></g>
<g id="f7-c2"><text class="c" x="3752" y="466">Subtract from the associated<tspan x="3752" dy="13.4">warehouse entry</tspan></text></g>
<g id="f7-n2"><rect class="b" x="3576" y="521" width="181" height="56"/><text x="3579" y="534">UPDATE lma SET qlmamag =<tspan x="3579" dy="13.4">qlmamag - pi_qltimag WHERE</tspan><tspan x="3579" dy="13.4">lma.ilti = pi_ilti AND</tspan><tspan x="3579" dy="13.4">lma.cmag = pi_cmag ;</tspan></text></g>
<g id="f7-c3"><text class="c" x="3766" y="546">ambar kaydý<tspan x="3766" dy="13.4">sýfýrlandýysa silelim</tspan></text></g>
<g id="f7-n3"><rect class="b" x="3581" y="593" width="170" height="59"/><text x="3584" y="606">DELETE FROM lma WHERE<tspan x="3584" dy="13.4">ilti  = pi_ilti AND  cmag</tspan><tspan x="3584" dy="13.4">= pi_cmag AND</tspan><tspan x="3584" dy="13.4">qlmamag = 0;</tspan></text></g>
<g id="f7-end"><rect class="en" x="3651" y="666" width="31" height="32"/><polygon class="ed" points="3666.5,666 3682,682 3666.5,698 3651,682"/><text class="m" x="3666.5" y="686">End</text></g>

<!-- ===================== F8 DECREASE_APU ===================== -->
<g id="f8-start"><ellipse class="b" cx="4145" cy="84.5" rx="108" ry="41"/><text class="m" x="4145" y="70">PROCEDURE DECREASE_APU (<tspan x="4145" dy="13.3">pi_ilti IN lti.ilti%TYPE,</tspan><tspan x="4145" dy="13.3">pi_qltiapu IN</tspan><tspan x="4145" dy="13.3">lti.qltiapu%TYPE)</tspan></text></g>
<g id="f8-c0"><line class="dl" x1="3992" y1="153" x2="4289" y2="153"/><line class="dl" x1="3992" y1="165" x2="4249" y2="165"/><line class="dl" x1="3992" y1="178" x2="4041" y2="178"/></g>
<g id="f8-c1"><text class="c" x="4308" y="161">Subtract from the amount<tspan x="4308" dy="13.4">to be discharged</tspan></text></g>
<g id="f8-n1"><rect class="b" x="4070" y="201" width="150" height="72"/><text x="4073" y="214">UPDATE lti SET qltiapu =<tspan x="4073" dy="13.4">qltiapu + pi_qltiapu,</tspan><tspan x="4073" dy="13.4">qltiapudoc = qltiapudoc +</tspan><tspan x="4073" dy="13.4">pi_qltiapu WHERE lti.ilti</tspan><tspan x="4073" dy="13.4">= pi_ilti;</tspan></text></g>
<g id="f8-end"><rect class="en" x="4129" y="288" width="31" height="32"/><polygon class="ed" points="4144.5,288 4160,304 4144.5,320 4129,304"/><text class="m" x="4144.5" y="308">End</text></g>

<!-- ===================== F9 DISCHARGE_LTI ===================== -->
<g id="f9-start"><ellipse class="b" cx="4621" cy="76.5" rx="101.5" ry="20.5"/><text class="m" x="4621" y="73">PROCEDURE DISCHARGE_LTI (<tspan x="4621" dy="13">pi_ilti IN lti.ilti%TYPE)</tspan></text></g>
<g id="f9-c0"><line class="dl" x1="4466" y1="133" x2="4765" y2="133"/><line class="dl" x1="4466" y1="146" x2="4727" y2="146"/><line class="dl" x1="4466" y1="159" x2="4514" y2="159"/></g>
<g id="f9-n1"><rect class="b" x="4533" y="193" width="174" height="44"/><text x="4536" y="206">l_qltiaapu  lti.qltiaapu%TYPE;<tspan x="4536" dy="13.4">l_qltiapu lti.qltiapu%TYPE;</tspan><tspan x="4536" dy="13.4">l_qltimag lti.qltimag%TYPE;</tspan></text></g>
<g id="f9-n2"><rect class="b" x="4520" y="261" width="201" height="59"/><text x="4523" y="274">SELECT qltiaapu,qltiapu,qltimag<tspan x="4523" dy="13.4">INTO l_qltiaapu,l_qltiapu,l_qltimag</tspan><tspan x="4523" dy="13.4">FROM lti WHERE  ilti =</tspan><tspan x="4523" dy="13.4">pi_ilti;</tspan></text></g>
<g id="f9-c1"><text class="c" x="4730" y="281">If the two amounts are<tspan x="4730" dy="13.4">equal after the</tspan><tspan x="4730" dy="13.4">subtraction</tspan></text></g>
<g id="f9-d1"><polygon class="b" points="4621,346 4722,376.5 4621,407 4519,376.5"/><text class="m" x="4621" y="374">(l_qltiaapu = l_qltiapu<tspan x="4621" dy="13.4">AND l_qltimag = 0) ?</tspan></text></g>
<g id="f9-c2"><text class="c" x="4733" y="381">Then discharge the LTI</text></g>
<g id="f9-n3"><rect class="b" x="4732" y="464" width="123" height="32"/><text x="4735" y="477">P_LTI_DISCHARGE<tspan x="4735" dy="13.4">( pi_ilti );</tspan></text></g>
<g id="f9-d2"><polygon class="b" points="4621,449 4727,480.5 4621,512 4514,480.5"/><text class="m" x="4621" y="477">( (l_qltiapu &gt; l_qltiaapu)<tspan x="4621" dy="13.4">OR (l_qltimag &lt; 0)) ?</tspan></text></g>
<g id="f9-n4"><rect class="b" x="4555" y="552" width="230" height="58"/><text x="4558" y="565">RAISE_APPLICATION_ERROR(-20102,<tspan x="4558" dy="13.4">'Miktarlarda yanlýþlýk</tspan><tspan x="4558" dy="13.4">vardýr, kap adetlerini</tspan><tspan x="4558" dy="13.4">kontrol ediniz');</tspan></text></g>
<g id="f9-end"><rect class="en" x="4654" y="634" width="31" height="32"/><polygon class="ed" points="4669.5,634 4685,650 4669.5,666 4654,650"/><text class="m" x="4669.5" y="654">End</text></g>

<!-- ===================== F10 DISCHARGE_TIT ===================== -->
<g id="f10-start"><ellipse class="b" cx="6226" cy="86" rx="104.5" ry="30"/><text class="m" x="6226" y="76">PROCEDURE DISCHARGE_TIT (<tspan x="6226" dy="13.4">pi_itit IN</tspan><tspan x="6226" dy="13.4">tit.itit%TYPE )</tspan></text></g>
<g id="f10-c0"><line class="dl" x1="6068" y1="151" x2="6366" y2="151"/><line class="dl" x1="6068" y1="165" x2="6374" y2="165"/><text class="c" x="6068" y="181">Variables<tspan x="6068" dy="13.4">nbr INTEGER;</tspan></text></g>
<g id="f10-n1"><rect class="b" x="6133" y="224" width="179" height="32"/><text x="6136" y="237">l_new_ievt_phy  evt.ievt%TYPE;<tspan x="6136" dy="13.4">l_new_ievt_sor  evt.ievt%TYPE;</tspan></text></g>
<g id="f10-c1"><text class="c" x="6326" y="238">s_qlmamag<tspan x="6326" dy="13.4">lma.qlmamag%TYPE;</tspan></text></g>
<g id="f10-n2"><rect class="b" x="6128" y="280" width="196" height="59"/><text x="6131" y="293">s_qlmvmag lmv.qlmvmag%TYPE;<tspan x="6131" dy="13.4">s_qlmvapu lmv.qlmvapu%TYPE;</tspan><tspan x="6131" dy="13.4">s_qltileft  lti.qltiaapu%TYPE;</tspan><tspan x="6131" dy="13.4">acma_kalan  lti.qltiaapu%TYPE;</tspan></text></g>
<g id="f10-n3"><rect class="b" x="6148" y="362" width="155" height="32"/><text x="6151" y="375">dbms_output.put_line('dis<tspan x="6151" dy="13.4">tit');</tspan></text></g>
<g id="f10-c2"><text class="c" x="6076" y="433">GETNEWID (pi_prefix, 'EVT', l_new_ievt_phy);<tspan x="6076" dy="13.3">FIL_EVT(l_new_ievt_phy,l_new_iact_phy, pi_itit);</tspan><tspan x="6076" dy="13.3">--bu taþýma senedi için ambar kaydý var mý?</tspan><tspan x="6076" dy="13.3">SELECT COUNT(*) INTO nbr</tspan><tspan x="6076" dy="13.3">FROM   lti,lma</tspan><tspan x="6076" dy="13.3">WHERE  lti.itit = pi_itit</tspan><tspan x="6076" dy="13.3">AND    lma.ilti = lti.ilti;</tspan><tspan x="6076" dy="13.3">IF (nbr &gt;0) THEN</tspan><tspan x="6076" dy="13.3">-- Create a new EVT record for entry to the warehouse</tspan><tspan x="6076" dy="13.3">GETNEWID (pi_prefix, 'EVT', l_new_ievt_sor);</tspan><tspan x="6076" dy="13.3">-- Create an evt record for the groupage TIT</tspan><tspan x="6076" dy="13.3">FIL_EVT(l_new_ievt_sor,l_new_iact_sor, pi_itit);</tspan><tspan x="6076" dy="13.3">END IF;</tspan></text></g>
<g id="f10-h1"><polygon class="hx" points="6128,662.5 6158,621 6294,621 6324,662.5 6294,704 6158,704"/><text class="m" x="6226" y="647">FOR lti_rec IN (SELECT *<tspan x="6226" dy="13.2">FROM  lti WHERE itit =</tspan><tspan x="6226" dy="13.2">pi_itit AND etat &lt;&gt;</tspan><tspan x="6226" dy="13.2">'LTI_APURE')</tspan></text></g>
<g id="f10-end"><rect class="en" x="6430" y="757" width="31" height="32"/><polygon class="ed" points="6445.5,757 6461,773 6445.5,789 6430,773"/><text class="m" x="6445.5" y="777">End</text></g>
<g id="f10-c3"><text class="c" x="5972" y="661">taþýma satýrýnýn herhangi<tspan x="5972" dy="13.4">bir açmasý var mý?</tspan></text></g>
<g id="f10-n4"><rect class="b" x="6040" y="743" width="372" height="59"/><text x="6043" y="756">SELECT COUNT(*) INTO  nbr FROM  act,evt,lmv WHERE lmv.ilti  =<tspan x="6043" dy="13.4">lti_rec.ilti AND lmv.ievt  = evt.ievt AND evt.iact  = act.iact AND</tspan><tspan x="6043" dy="13.4">act.cactnat = ptr_apu AND act.etat &lt;&gt; 'ACT_ANNULE';</tspan><tspan x="6043" dy="13.4">dbms_output.put_line('Açmasý var '||nbr);</tspan></text></g>
<g id="f10-c4"><text class="c" x="5896" y="771">önceden yapýlmýþ<tspan x="5896" dy="13.4">açmasý yoksa</tspan></text></g>
<g id="f10-d1"><polygon class="b" points="5950,827 5999,845 5950,864 5902,845"/><text class="m" x="5950" y="849">(nbr =0) ?</text></g>
<g id="f10-c5"><text class="c" x="5896" y="925">önceden yapýlmýþ<tspan x="5896" dy="13.4">açmasý varsa</tspan></text></g>
<g id="f10-h2"><polygon class="hx" points="5846,1014.5 5873,974 6028,974 6055,1014.5 6028,1055 5873,1055"/><text class="m" x="5950" y="998">FOR lma_rec IN (SELECT<tspan x="5950" dy="13.4">cmag,qlmamag FROM  lma</tspan><tspan x="5950" dy="13.4">WHERE ilti =</tspan><tspan x="5950" dy="13.4">lti_rec.ilti )</tspan></text></g>
<g id="f10-c6"><text class="c" x="6064" y="1006">ambar içi olarak yapýlan açmalarý bul<tspan x="6064" dy="13.4">-onaylanmýþ olanlar zaten lma.qlmamag miktarýný düþürmüþ</tspan><tspan x="6064" dy="13.4">oluyorlar</tspan></text></g>
<g id="f10-n5"><rect class="b" x="5747" y="1097" width="405" height="84"/><text x="5750" y="1110">SELECT NVL(sum(lmv.qlmvapu),0) INTO s_qlmvmag FROM  lmv,evt,act<tspan x="5750" dy="13.4">WHERE lmv.ilti = lti_rec.ilti AND lmv.ievt = evt.ievt AND evt.iact</tspan><tspan x="5750" dy="13.4">= act.iact AND act.cactnat = ptr_apu AND act.cactinwh = ptr_oui</tspan><tspan x="5750" dy="13.4">AND act.etat &lt;&gt; 'ACT_ANNULE' AND act.etat &lt;&gt; 'ACT_VALIDE' AND</tspan><tspan x="5750" dy="13.4">lmv.clmvmag = lma_rec.cmag;</tspan><tspan x="5750" dy="13.4">acma_kalan := lma_rec.qlmamag - s_qlmvmag;</tspan></text></g>
<g id="f10-d2"><polygon class="b" points="5878,1266 5964,1284 5878,1303 5792,1284"/><text class="m" x="5878" y="1288">(acma_kalan &gt; 0) ?</text></g>
<g id="f10-c7"><text class="c" x="5972" y="1275">FIL_LMV (l_new_ievt_sor, lti_rec.ilti, 0, ( lma_rec.qlmamag -<tspan x="5972" dy="13.4">s_qlmvmag), lma_rec.cmag);</tspan><tspan x="5972" dy="13.4">açma kaydý oluþtur</tspan></text></g>
<g id="f10-n6"><rect class="b" x="5924" y="1387" width="181" height="58"/><text x="5927" y="1400">PREPARE_HISTORY (ptr_apu,<tspan x="5927" dy="13.4">ptr_oui, lma_rec.cmag,</tspan><tspan x="5927" dy="13.4">pi_itit, lti_rec.ilti,</tspan><tspan x="5927" dy="13.4">acma_kalan);</tspan></text></g>
<g id="f10-c8"><text class="c" x="6116" y="1421">Ambar çýkýþ kaydý oluþtur</text></g>
<g id="f10-n7"><rect class="b" x="5993" y="1485" width="179" height="59"/><text x="5996" y="1498">PREPARE_HISTORY (ptr_sor,<tspan x="5996" dy="13.4">ptr_oui, lma_rec.cmag,</tspan><tspan x="5996" dy="13.4">pi_itit, lti_rec.ilti,</tspan><tspan x="5996" dy="13.4">acma_kalan);</tspan></text></g>
<g id="f10-c9"><text class="c" x="5860" y="1519">Kapatma kaydý oluþtur</text></g>
<g id="f10-n8"><rect class="b" x="5833" y="1590" width="475" height="46"/><text x="5836" y="1603">PREPARE_HISTORY (ptr_phy, ptr_oui, lma_rec.cmag, pi_itit, lti_rec.ilti, acma_kalan);<tspan x="5836" dy="13.4">DECREASE_LTI_WH_APU(lti_rec.ilti,acma_kalan, lma_rec.cmag);</tspan><tspan x="5836" dy="13.4">DISCHARGE_LTI(lti_rec.ilti);</tspan></text></g>
<g id="f10-l1"><text class="c" x="6049" y="1733">lma_rec</text></g>
<g id="f10-c10"><text class="c" x="6108" y="1733">Kapatma kaydý oluþtur</text></g>
<g id="f10-n9"><rect class="b" x="5004" y="904" width="160" height="46"/><text x="5007" y="917">SELECT count(*) INTO nbr<tspan x="5007" dy="13.4">FROM lma WHERE  ilti =</tspan><tspan x="5007" dy="13.4">lti_rec.ilti;</tspan></text></g>
<g id="f10-c11"><text class="c" x="5171" y="925">ambar kaydý varsa,<tspan x="5171" dy="13.4">ambardan çýkar</tspan></text></g>
<g id="f10-d3"><polygon class="b" points="5084,996 5133,1016 5084,1035 5033,1016"/><text class="m" x="5084" y="1020">(nbr &gt;0) ?</text></g>
<g id="f10-h3"><polygon class="hx" points="4981,1138.5 5033,1106 5135,1106 5187,1138.5 5135,1171 5033,1171"/><text class="m" x="5084" y="1130">FOR lma_rec IN (SELECT *<tspan x="5084" dy="13.4">FROM lma WHERE ilti =</tspan><tspan x="5084" dy="13.4">lti_rec.ilti)</tspan></text></g>
<g id="f10-c12"><text class="c" x="5194" y="1130">FIL_LMV (l_new_ievt_sor, lti_rec.ilti, 0, lti_rec.qltimag,<tspan x="5194" dy="13.4">lma_rec.cmag);</tspan><tspan x="5194" dy="13.4">açma kaydý oluþtur</tspan></text></g>
<g id="f10-n10"><rect class="b" x="4805" y="1255" width="168" height="58"/><text x="4808" y="1268">SELECT (qltiaapu-qltiapu)<tspan x="4808" dy="13.4">INTO  acma_kalan FROM  lti</tspan><tspan x="4808" dy="13.4">WHERE ilti =</tspan><tspan x="4808" dy="13.4">lti_rec.ilti;</tspan></text></g>
<g id="f10-c13"><text class="c" x="4807" y="1137">ambardan çýkardýktan sonra<tspan x="4807" dy="13.4">halen kapanacak kap varsa</tspan></text></g>
<g id="f10-n11"><rect class="b" x="4992" y="1255" width="181" height="58"/><text x="4995" y="1268">PREPARE_HISTORY (ptr_apu,<tspan x="4995" dy="13.4">ptr_oui, lma_rec.cmag,</tspan><tspan x="4995" dy="13.4">pi_itit, lti_rec.ilti,</tspan><tspan x="4995" dy="13.4">lti_rec.qltimag);</tspan></text></g>
<g id="f10-c14"><text class="c" x="5183" y="1289">Ambar çýkýþ kaydý oluþtur</text></g>
<g id="f10-n12"><rect class="b" x="5153" y="1387" width="179" height="59"/><text x="5156" y="1400">PREPARE_HISTORY (ptr_sor,<tspan x="5156" dy="13.4">ptr_oui, lma_rec.cmag,</tspan><tspan x="5156" dy="13.4">pi_itit, lti_rec.ilti,</tspan><tspan x="5156" dy="13.4">lti_rec.qltimag);</tspan></text></g>
<g id="f10-c15"><text class="c" x="5355" y="1421">Kapatma kaydý oluþtur</text></g>
<g id="f10-n13"><rect class="b" x="5099" y="1493" width="482" height="45"/><text x="5102" y="1506">PREPARE_HISTORY (ptr_phy, ptr_oui, lma_rec.cmag, pi_itit, lti_rec.ilti, lti_rec.qltimag);<tspan x="5102" dy="13.4">DECREASE_LTI_WH_APU(lti_rec.ilti, lma_rec.qlmamag, lma_rec.cmag);</tspan><tspan x="5102" dy="13.4">DISCHARGE_LTI(lti_rec.ilti);</tspan></text></g>
<g id="f10-d4"><polygon class="b" points="4889,1397 4975,1416 4889,1434 4804,1416"/><text class="m" x="4889" y="1420">(acma_kalan &gt; 0) ?</text></g>
<g id="f10-c16"><text class="c" x="4468" y="1414">FIL_LMV(l_new_ievt_phy,lti_rec.ilti,lti_rec.qltiaapu,0,NULL);<tspan x="4468" dy="13.4">açma kaydý oluþtur</tspan></text></g>
<g id="f10-n14"><rect class="b" x="4611" y="1485" width="181" height="59"/><text x="4614" y="1498">PREPARE_HISTORY (ptr_apu,<tspan x="4614" dy="13.4">ptr_non, NULL, pi_itit,</tspan><tspan x="4614" dy="13.4">lti_rec.ilti,</tspan><tspan x="4614" dy="13.4">acma_kalan);</tspan></text></g>
<g id="f10-c17"><text class="c" x="4804" y="1518">Kapatma kaydý oluþtur</text></g>
<g id="f10-n15"><rect class="b" x="4485" y="1590" width="432" height="46"/><text x="4488" y="1603">PREPARE_HISTORY (ptr_phy, ptr_non, NULL, pi_itit, lti_rec.ilti, acma_kalan);<tspan x="4488" dy="13.4">DECREASE_APU(lti_rec.ilti,acma_kalan);</tspan><tspan x="4488" dy="13.4">DISCHARGE_LTI(lti_rec.ilti);</tspan></text></g>
<g id="f10-c18"><text class="c" x="4926" y="1597">NCTSten gelenlerin bazen<tspan x="4926" dy="13.6">kap sayýlarý sýfýr oluyor,</tspan><tspan x="4926" dy="13.6">onlarý da kapatmak gerek,</tspan><tspan x="4926" dy="13.6">Baslan 03102013</tspan></text></g>
<g id="f10-d5"><polygon class="b" points="5090,1682 5204,1727 5090,1773 4976,1727"/><text class="m" x="5090" y="1718">(lti_rec.nltinbrcls = 0 AND<tspan x="5090" dy="13.8">lti_rec.qltiaapu = 0 AND</tspan><tspan x="5090" dy="13.8">lti_rec.qltimag = 0) ?</tspan></text></g>
<g id="f10-n16"><rect class="b" x="5102" y="1820" width="105" height="32"/><text x="5105" y="1833">DISCHARGE_LTI<tspan x="5105" dy="13.4">(lti_rec.ilti);</tspan></text></g>
<g id="f10-l2"><text class="c" x="5182" y="1896">önceden yapýlmýþ açma kaydý var mý?<tspan x="5182" dy="13.4">lti_rec</tspan></text></g>
<g id="f10-n17"><rect class="b" x="5396" y="1221" width="208" height="124"/><text x="5399" y="1234">SELECT NVL(SUM(lmv.qlmvapu),0)<tspan x="5399" dy="13.4">INTO  s_qlmvapu FROM</tspan><tspan x="5399" dy="13.4">lmv,evt,act WHERE lmv.ilti</tspan><tspan x="5399" dy="13.4">= lti_rec.ilti AND lmv.ievt</tspan><tspan x="5399" dy="13.4">= evt.ievt AND evt.iact =</tspan><tspan x="5399" dy="13.4">act.iact AND act.cactnat =</tspan><tspan x="5399" dy="13.4">ptr_apu AND act.cactinwh =</tspan><tspan x="5399" dy="13.4">ptr_non AND act.etat &lt;&gt;</tspan><tspan x="5399" dy="13.4">'ACT_ANNULE';</tspan></text></g>
<g id="f10-c19"><text class="c" x="5582" y="1137">ambar harici olarak yapýlan<tspan x="5582" dy="13.4">açmalarý bul</tspan></text></g>
<g id="f10-n18"><rect class="b" x="5497" y="1387" width="154" height="59"/><text x="5500" y="1400">SELECT qltiaapu - qltiapu<tspan x="5500" dy="13.4">INTO  s_qltileft FROM  lti</tspan><tspan x="5500" dy="13.4">WHERE ilti =</tspan><tspan x="5500" dy="13.4">lti_rec.ilti;</tspan></text></g>
<g id="f10-c20"><text class="c" x="5612" y="1269">ambardan eþya çýkartýrken<tspan x="5612" dy="13.4">bu rakamlar deðiþiyor, o</tspan><tspan x="5612" dy="13.4">yüzden tekrar almak gerekiyor</tspan><tspan x="5612" dy="13.4">veri tabanýndan</tspan></text></g>
<g id="f10-n19"><rect class="b" x="5588" y="1498" width="132" height="32"/><text x="5591" y="1511">acma_kalan :=<tspan x="5591" dy="13.4">s_qltileft - s_qlmvapu;</tspan></text></g>
<g id="f10-c21"><text class="c" x="5659" y="1407">s_qltileft := lti_rec.qltiaapu<tspan x="5659" dy="13.4">- qlmamag -</tspan><tspan x="5659" dy="13.4">lti_rec.qltiapu;</tspan></text></g>
<g id="f10-d6"><polygon class="b" points="5374,1595 5461,1614 5374,1632 5287,1614"/><text class="m" x="5374" y="1618">(acma_kalan &gt; 0) ?</text></g>
<g id="f10-c22"><text class="c" x="5468" y="1604">FIL_LMV(l_new_ievt_phy, lti_rec.ilti, ( s_qltileft - s_qlmvapu),0,<tspan x="5468" dy="13.4">NULL);</tspan><tspan x="5468" dy="13.4">açma kaydý oluþtur</tspan></text></g>
<g id="f10-n20"><rect class="b" x="5428" y="1699" width="181" height="59"/><text x="5431" y="1712">PREPARE_HISTORY (ptr_apu,<tspan x="5431" dy="13.4">ptr_non, NULL, pi_itit,</tspan><tspan x="5431" dy="13.4">lti_rec.ilti,</tspan><tspan x="5431" dy="13.4">acma_kalan);</tspan></text></g>
<g id="f10-n21"><rect class="b" x="5303" y="1813" width="433" height="45"/><text x="5306" y="1826">PREPARE_HISTORY (ptr_phy, ptr_non, NULL, pi_itit, lti_rec.ilti, acma_kalan);<tspan x="5306" dy="13.4">DECREASE_APU(lti_rec.ilti,acma_kalan);</tspan><tspan x="5306" dy="13.4">DISCHARGE_LTI(lti_rec.ilti);</tspan></text></g>

<!-- ===================== F11 AFFECT_WAREHOUSE_ON_3 ===================== -->
<g id="f11-start"><ellipse class="b" cx="6830" cy="76.5" rx="96" ry="20.5"/><text class="m" x="6830" y="73">PROCEDURE<tspan x="6830" dy="13">AFFECT_WAREHOUSE_ON_3</tspan></text></g>
<g id="f11-var"><text class="c m" x="6830" y="137">Variables</text></g>
<g id="f11-n1"><rect class="b" x="6722" y="165" width="216" height="45"/><text x="6725" y="178">l_new_ievt_phy  evt.ievt%TYPE;<tspan x="6725" dy="13.4">l_new_ievt_sor  evt.ievt%TYPE;</tspan><tspan x="6725" dy="13.4">l_qlmamag lma.qlmamag%TYPE:=0;</tspan></text></g>
<g id="f11-c1"><text class="c" x="6662" y="248">--get a new ID for an act record<tspan x="6662" dy="13.4">GETNEWID (pi_prefix, 'ACT', l_new_iact_sor );</tspan><tspan x="6662" dy="13.4">--Fill an ACT record</tspan><tspan x="6662" dy="13.4">FIL_ACT(l_new_iact_sor,ptr_sor, pvc_rec.cpvcmag, ptr_oui);</tspan><tspan x="6662" dy="13.4">-- Get an ID for the new evt record</tspan><tspan x="6662" dy="13.4">GETNEWID (pi_prefix, 'EVT', l_new_ievt_sor );</tspan><tspan x="6662" dy="13.4">-- Fill a new EVT record</tspan><tspan x="6662" dy="13.4">FIL_EVT (l_new_ievt_sor, l_new_iact_sor, pvc_rec.itit);</tspan><tspan x="6662" dy="13.4">For each LPV associated with the current PVC</tspan></text></g>
<g id="f11-h1"><polygon class="hx" points="6728,425.5 6756,384 6904,384 6932,425.5 6904,467 6756,467"/><text class="m" x="6830" y="406">FOR lpv_rec IN ( SELECT *<tspan x="6830" dy="13.7">FROM  lpv WHERE lpv.ipvc</tspan><tspan x="6830" dy="13.7">= pvc_rec.ipvc )</tspan></text></g>
<g id="f11-c2"><text class="c" x="6939" y="414">Subtract from the associated<tspan x="6939" dy="13.4">warehouse entry</tspan></text></g>
<g id="f11-end"><rect class="en" x="6704" y="509" width="31" height="32"/><polygon class="ed" points="6719.5,509 6735,525 6719.5,541 6704,525"/><text class="m" x="6719.5" y="529">End</text></g>
<g id="f11-n2"><rect class="b" x="6741" y="489" width="176" height="71"/><text x="6744" y="502">UPDATE lma SET qlmamag =<tspan x="6744" dy="13.4">qlmamag - lpv_rec.qlpvmvt</tspan><tspan x="6744" dy="13.4">WHERE lma.ilti = lpv_rec.ilti</tspan><tspan x="6744" dy="13.4">AND lma.cmag =</tspan><tspan x="6744" dy="13.4">pvc_rec.cpvcmag ;</tspan></text></g>
<g id="f11-c3"><text class="c" x="6596" y="522">get the value still<tspan x="6596" dy="13.4">in the warehouse</tspan></text></g>
<g id="f11-n3"><rect class="b" x="6724" y="584" width="212" height="58"/><text x="6727" y="597">SELECT qlmamag INTO l_qlmamag<tspan x="6727" dy="13.4">FROM lma WHERE lma.ilti =</tspan><tspan x="6727" dy="13.4">lpv_rec.ilti AND lma.cmag</tspan><tspan x="6727" dy="13.4">= pvc_rec.cpvcmag ;</tspan></text></g>
<g id="f11-c4"><text class="c" x="6593" y="618">if the qlmamag is zero</text></g>
<g id="f11-d1"><polygon class="b" points="6830,666 6914,685 6830,704 6745,685"/><text class="m" x="6830" y="689">(l_qlmamag = 0) ?</text></g>
<g id="f11-n4"><rect class="b" x="6744" y="745" width="172" height="44"/><text x="6747" y="758">DELETE FROM  lma WHERE<tspan x="6747" dy="13.4">ilti=lpv_rec.ilti AND</tspan><tspan x="6747" dy="13.4">cmag=pvc_rec.cpvcmag;</tspan></text></g>
<g id="f11-c5"><text class="c" x="6924" y="765">subtract from the<tspan x="6924" dy="13.4">qlpvmag quantity</tspan></text></g>
<g id="f11-n5"><rect class="b" x="6955" y="814" width="165" height="58"/><text x="6958" y="827">UPDATE lpv SET qlpvmag =<tspan x="6958" dy="13.4">qlpvmag - lpv_rec.qlpvmvt</tspan><tspan x="6958" dy="13.4">WHERE ilpv =</tspan><tspan x="6958" dy="13.4">lpv_rec.ilpv;</tspan></text></g>
<g id="f11-c6"><text class="c" x="6846" y="841">Subtract from the<tspan x="6846" dy="13.4">associated LTI</tspan></text></g>
<g id="f11-n6"><rect class="b" x="6960" y="896" width="156" height="58"/><text x="6963" y="909">UPDATE lti SET qltimag  =<tspan x="6963" dy="13.4">qltimag - lpv_rec.qlpvmvt</tspan><tspan x="6963" dy="13.4">WHERE lti.ilti =</tspan><tspan x="6963" dy="13.4">lpv_rec.ilti;</tspan></text></g>
<g id="f11-c7"><text class="c" x="6536" y="916">Fill in the corresponding LMV record<tspan x="6536" dy="13.4">FIL_LMV (l_new_ievt_sor, lpv_rec.ilti, 0 , lpv_rec.qlpvmvt, pvc_rec.cpvcmag);</tspan><tspan x="6536" dy="13.4">açma kaydý oluþtur</tspan></text></g>
<g id="f11-n7"><rect class="b" x="6654" y="979" width="181" height="58"/><text x="6657" y="992">PREPARE_HISTORY (ptr_apu,<tspan x="6657" dy="13.4">ptr_oui, pvc_rec.cpvcmag,</tspan><tspan x="6657" dy="13.4">pvc_rec.itit, lpv_rec.ilti,</tspan><tspan x="6657" dy="13.4">lpv_rec.qlpvmvt);</tspan></text></g>
<g id="f11-c8"><text class="c" x="6845" y="1013">Ambar çýkýþ kaydý oluþtur</text></g>
<g id="f11-n8"><rect class="b" x="6553" y="1062" width="383" height="44"/><text x="6556" y="1075">PREPARE_HISTORY (ptr_sor, ptr_oui, pvc_rec.cpvcmag, pvc_rec.itit,<tspan x="6556" dy="13.4">lpv_rec.ilti, lpv_rec.qlpvmvt);</tspan><tspan x="6556" dy="13.4">DISCHARGE_LTI(lpv_rec.ilti);</tspan></text></g>

<!-- ===================== F12 AFFECT_DISCHARGE_ON_3 ===================== -->
<g id="f12-start"><ellipse class="b" cx="7616" cy="76.5" rx="92" ry="20.5"/><text class="m" x="7616" y="73">PROCEDURE<tspan x="7616" dy="13">AFFECT_DISCHARGE_ON_3</tspan></text></g>
<g id="f12-c0"><line class="dl" x1="7390" y1="133" x2="7686" y2="133"/><text class="c" x="7390" y="149">Proceudre to make the change on the amount to be discharged in the associated<tspan x="7390" dy="13.4">LTI of each LPV record corresponding to the current PVC.</tspan></text><line class="dl" x1="7390" y1="173" x2="7689" y2="173"/><text class="c" x="7390" y="189">Variables</text></g>
<g id="f12-n1"><rect class="b" x="7523" y="219" width="184" height="31"/><text x="7526" y="232">l_new_ievt_phy  evt.ievt%TYPE;<tspan x="7526" dy="13.4">l_new_ievt_sor  evt.ievt%TYPE;</tspan></text></g>
<g id="f12-c1"><text class="c" x="7463" y="289">88<tspan x="7463" dy="13.3">--get a new ID for an act record</tspan><tspan x="7463" dy="13.3">GETNEWID (pi_prefix, 'ACT', l_new_iact_phy );</tspan><tspan x="7463" dy="13.3">--Fill an ACT record</tspan><tspan x="7463" dy="13.3">FIL_ACT(l_new_iact_phy, ptr_phy, NULL, ptr_non );</tspan><tspan x="7463" dy="13.3">-- Get an ID for the new evt record</tspan><tspan x="7463" dy="13.3">GETNEWID (pi_prefix, 'EVT', l_new_ievt_phy );</tspan><tspan x="7463" dy="13.3">-- Fill a new EVT record</tspan><tspan x="7463" dy="13.3">FIL_EVT (l_new_ievt_phy, l_new_iact_phy, pvc_rec.itit);</tspan><tspan x="7463" dy="13.3">For each LPV associated with the current PVC</tspan></text></g>
<g id="f12-h1"><polygon class="hx" points="7514,469 7550,437 7682,437 7718,469 7682,501 7550,501"/><text class="m" x="7616" y="460">FOR lpv_rec IN ( SELECT *<tspan x="7616" dy="13.4">FROM  lpv WHERE lpv.ipvc</tspan><tspan x="7616" dy="13.4">= pvc_rec.ipvc )</tspan></text></g>
<g id="f12-c2"><text class="c" x="7725" y="466">Subtract from the amount<tspan x="7725" dy="13.4">to be discharged</tspan></text></g>
<g id="f12-end"><rect class="en" x="7503" y="561" width="31" height="32"/><polygon class="ed" points="7518.5,561 7534,577 7518.5,593 7503,577"/><text class="m" x="7518.5" y="581">End</text></g>
<g id="f12-n2"><rect class="b" x="7539" y="541" width="153" height="72"/><text x="7542" y="554">UPDATE lti SET qltiapu  =<tspan x="7542" dy="13.4">qltiapu + lpv_rec.qlpvmvt,</tspan><tspan x="7542" dy="13.4">qltiapudoc = qltiapudoc +</tspan><tspan x="7542" dy="13.4">lpv_rec.qlpvmvt WHERE</tspan><tspan x="7542" dy="13.4">lti.ilti = lpv_rec.ilti;</tspan></text></g>
<g id="f12-c3"><text class="c" x="7142" y="568">Fill in the corresponding LMV record<tspan x="7142" dy="13.4">FIL_LMV (l_new_ievt_phy, lpv_rec.ilti, lpv_rec.qlpvmvt, 0, NULL);</tspan><tspan x="7142" dy="13.4">ambar miktarý etkilenecek denmemiþse</tspan></text></g>
<g id="f12-d1"><polygon class="b" points="7533,637 7631,669 7533,701 7435,669"/><text class="m" x="7533" y="667">(pvc_rec.cpvcindmag<tspan x="7533" dy="13.4">= ptr_non) ?</tspan></text></g>
<g id="f12-c4"><text class="c" x="7142" y="667">Açma kaydý ambar çýkýþ tarafýnda oluþmuþ oluyor.<tspan x="7142" dy="13.4">kapatma kaydý oluþtur</tspan></text></g>
<g id="f12-c5"><text class="c" x="7641" y="674">açma kaydý oluþtur</text></g>
<g id="f12-n3"><rect class="b" x="7259" y="741" width="178" height="59"/><text x="7262" y="754">PREPARE_HISTORY (ptr_phy,<tspan x="7262" dy="13.4">ptr_oui, pvc_rec.cpvcmag,</tspan><tspan x="7262" dy="13.4">pvc_rec.itit, lpv_rec.ilti,</tspan><tspan x="7262" dy="13.4">lpv_rec.qlpvmvt);</tspan></text></g>
<g id="f12-n4"><rect class="b" x="7442" y="741" width="181" height="59"/><text x="7445" y="754">PREPARE_HISTORY (ptr_apu,<tspan x="7445" dy="13.4">ptr_non, NULL, pvc_rec.itit,</tspan><tspan x="7445" dy="13.4">lpv_rec.ilti,</tspan><tspan x="7445" dy="13.4">lpv_rec.qlpvmvt);</tspan></text></g>
<g id="f12-c6"><text class="c" x="7634" y="774">kapatma kaydý oluþtur</text></g>
<g id="f12-n5"><rect class="b" x="7443" y="824" width="179" height="59"/><text x="7446" y="837">PREPARE_HISTORY (ptr_phy,<tspan x="7446" dy="13.4">ptr_non, NULL, pvc_rec.itit,</tspan><tspan x="7446" dy="13.4">lpv_rec.ilti,</tspan><tspan x="7446" dy="13.4">lpv_rec.qlpvmvt);</tspan></text></g>
<g id="f12-n6"><rect class="b" x="7294" y="907" width="107" height="31"/><text x="7297" y="920">DISCHARGE_LTI<tspan x="7297" dy="13.4">(lpv_rec.ilti);</tspan></text></g>

<!-- ===================== CONNECTORS ===================== -->
<g id="connectors">
<path class="ao" d="M500,28 L500,54"/><path class="ao" d="M1089,28 L1089,55"/><path class="ao" d="M1407,28 L1407,45"/><path class="ao" d="M1869,28 L1869,46"/><path class="ao" d="M2373,28 L2373,44"/><path class="ao" d="M2936,28 L2936,56"/><path class="ao" d="M3666,28 L3666,46"/><path class="ao" d="M4145,28 L4145,44"/><path class="ao" d="M4621,28 L4621,56"/><path class="ao" d="M6227,28 L6227,56"/><path class="ao" d="M6830,28 L6830,56"/><path class="ao" d="M7616,28 L7616,56"/>

<path class="a" d="M500,96 L500,122"/><path class="a" d="M500,144 L500,165"/>
<path class="cl" d="M839,218 C800,255 700,275 549,293"/>
<path class="a" d="M500,250 L500,293"/>
<path class="cl" d="M616,360 L570,383"/>
<path class="a" d="M500,339 L500,383"/>
<path class="cl" d="M636,430 L564,478"/>
<path class="a" d="M500,455 L500,479"/>
<path class="cl" d="M663,533 L552,589"/>
<path class="a" d="M500,565 L500,589"/>
<path class="cl" d="M659,616 L570,644"/>
<path class="a" d="M500,621 L500,645"/>
<path class="cl" d="M610,684 L536,714"/>
<path class="a" d="M500,690 L500,714"/>
<path class="a" d="M500,747 L500,770"/>
<path class="cl" d="M297,807 L297,918"/>
<path class="ag" d="M479,806 L327,926"/><text class="y" x="472" y="832">Yes</text>
<path class="ar" d="M506,807 Q516,870 536,933"/><text class="r" x="520" y="832">No</text>
<path class="ag" d="M558,964 L684,1095"/><text class="y" x="691" y="1077">Yes</text>
<path class="cl" d="M735,1048 L710,1096"/>
<path class="ar" d="M543,970 L543,1094"/><text class="r" x="549" y="1077">No</text>
<path class="ag" d="M280,980 L205,1102"/><text class="y" x="243" y="1077">Yes</text>
<path class="ar" d="M297,983 L297,1255"/><text class="r" x="310" y="1116">No</text>
<path class="cl" d="M375,1129 L311,1258"/>
<path class="a" d="M204,1120 L282,1258"/>
<path class="ag" d="M293,1318 L280,1485"/><text class="y" x="292" y="1427">Yes</text>
<path class="ar" d="M314,1314 Q378,1420 397,1580"/><text class="r" x="387" y="1497">No</text>
<path class="a" d="M290,1503 L386,1580"/>
<path class="ag" d="M546,1130 L546,1169"/><text class="y" x="555" y="1155">Yes</text>
<path class="ar" d="M493,1120 C430,1150 410,1300 411,1580"/><text class="r" x="417" y="1427">No</text>
<path class="ag" d="M692,1391 L763,1446"/>
<path class="a" d="M705,1127 C722,1300 690,1480 457,1583"/>
<path class="lp" d="M761,1545 C740,1578 600,1588 489,1597"/><text class="el" x="755" y="1568">End LOOP</text>
<path class="ap" d="M821,1544 L821,1583"/><path class="a" d="M826,1583 L826,1544"/>
<path class="at" d="M412,1616 L412,1639"/>
<path class="lp" d="M307,1694 C230,1705 140,1720 120,1771"/><text class="el" x="161" y="1746">End LOOP</text>
<path class="a" d="M109,1817 L109,1874"/>
<path class="ap" d="M412,1722 L412,1762"/>
<path class="lp" d="M351,1825 C335,1840 326,1850 326,1865"/><text class="el" x="347" y="1850">End LOOP</text>
<path class="ap" d="M445,1827 L482,1865"/>
<path class="a" d="M317,1911 L317,1937"/>
<path class="ag" d="M308,1972 L297,2012"/><text class="y" x="323" y="1997">Yes</text>
<path class="ar" d="M331,1969 C362,1990 362,2050 304,2074"/><text class="r" x="365" y="2034">No</text>
<path class="a" d="M288,2045 L288,2072"/>
<path class="at" d="M277,2076 C215,2040 215,1760 318,1697"/>
<path class="a" d="M506,1911 L506,1937"/>
<path class="ag" d="M509,1972 L512,2012"/><text class="y" x="529" y="1997">Yes</text>
<path class="ar" d="M482,1963 C445,1990 420,2040 421,2070"/><text class="r" x="446" y="2034">No</text>
<path class="a" d="M482,2045 L439,2071"/>
<path class="at" d="M412,2074 L412,1828"/>

<path class="a" d="M1089,192 L1089,218"/><path class="a" d="M1089,290 L1089,313"/>
<path class="cl" d="M1214,353 L1127,386"/>
<path class="a" d="M1089,360 L1089,384"/>
<path class="cl" d="M1274,419 L1247,461"/>
<path class="ag" d="M1089,422 L1089,461"/><text class="y" x="1096" y="445">Yes</text>
<path class="ar" d="M1116,417 L1203,461"/><text class="r" x="1190" y="445">No</text>
<path class="cl" d="M1333,494 L1290,517"/>
<path class="a" d="M1127,494 L1172,517"/><path class="a" d="M1237,494 L1237,517"/>
<path class="a" d="M1237,575 L1237,599"/>

<path class="a" d="M1407,125 L1407,141"/><path class="a" d="M1407,189 L1407,201"/>
<path class="cl" d="M1610,175 L1482,218"/>
<path class="a" d="M1407,288 L1407,301"/>

<path class="a" d="M1869,166 L1869,182"/><path class="a" d="M1869,226 L1869,241"/>
<path class="cl" d="M2093,221 L1974,269"/>
<path class="a" d="M1869,380 L1869,395"/>

<path class="a" d="M2373,88 L2373,104"/><path class="a" d="M2373,150 L2373,163"/>
<path class="cl" d="M2512,204 L2445,224"/>
<path class="a" d="M2373,210 L2373,224"/>
<path class="cl" d="M2614,265 Q2520,272 2434,281"/>
<path class="a" d="M2373,269 L2373,284"/>
<path class="cl" d="M2496,310 L2459,330"/>
<path class="a" d="M2373,314 L2373,330"/>
<path class="a" d="M2373,429 L2373,444"/>

<path class="a" d="M2936,211 L2936,236"/><path class="a" d="M2936,308 L2936,333"/>
<path class="cl" d="M3050,367 L2983,388"/>
<path class="a" d="M2936,366 L2936,390"/>
<path class="a" d="M2936,422 L2936,457"/>
<path class="cl" d="M3245,498 L3245,551"/>
<path class="ag" d="M2903,489 C2850,510 2760,540 2712,571"/><text class="y" x="2861" y="528">Yes</text>
<path class="ar" d="M2968,489 L3164,571"/><text class="r" x="3081" y="528">No</text>
<path class="cl" d="M2633,504 L2633,544"/>
<path class="a" d="M2630,670 L2630,700"/>
<path class="cl" d="M2521,733 L2605,820"/>
<path class="cl" d="M2887,740 L2887,780"/>
<path class="ag" d="M2628,735 L2622,818"/><text class="y" x="2629" y="763">Yes</text>
<path class="ar" d="M2659,730 L2804,780"/><text class="r" x="2777" y="763">No</text>
<path class="cl" d="M2753,845 L2773,914"/>
<path class="a" d="M2641,851 Q2690,880 2730,914"/>
<path class="a" d="M3246,663 L3246,698"/>
<path class="cl" d="M3112,733 L3059,818"/>
<path class="cl" d="M3443,740 L3380,785"/>
<path class="ag" d="M3218,730 Q3120,770 3068,818"/><text class="y" x="3175" y="763">Yes</text>
<path class="ar" d="M3257,733 L3282,785"/><text class="r" x="3277" y="763">No</text>
<path class="cl" d="M3162,845 L3084,914"/>
<path class="a" d="M3044,851 L3044,915"/>
<path class="a" d="M2827,961 L2845,984"/><path class="a" d="M2888,891 L2888,984"/><path class="a" d="M2996,961 L2952,984"/>
<path class="a" d="M3235,884 C3150,960 3050,990 2968,1006"/>
<path class="cl" d="M2592,954 C2680,985 2760,1000 2809,1004"/>
<path class="a" d="M2888,1043 L2888,1067"/>
<path class="cl" d="M3004,1102 L2979,1144"/>
<path class="ag" d="M2905,1100 L2947,1144"/><text class="y" x="2943" y="1128">Yes</text>
<path class="ar" d="M2888,1104 L2888,1188"/><text class="r" x="2896" y="1128">No</text>
<path class="cl" d="M3093,1171 L2992,1255"/>
<path class="a" d="M2970,1176 L2972,1256"/>
<path class="cl" d="M2836,1289 L2869,1312"/>
<path class="a" d="M2894,1244 L2898,1313"/><path class="a" d="M2952,1288 L2929,1313"/>
<path class="a" d="M2902,1357 L2902,1381"/>

<path class="a" d="M3666,144 L3666,161"/>
<path class="cl" d="M3903,311 C3890,400 3820,425 3746,432"/>
<path class="a" d="M3666,418 L3666,434"/>
<path class="cl" d="M3800,487 L3732,520"/>
<path class="a" d="M3666,506 L3666,521"/>
<path class="cl" d="M3789,566 L3732,593"/>
<path class="a" d="M3666,577 L3666,593"/>
<path class="a" d="M3666,652 L3666,666"/>

<path class="a" d="M4145,127 L4145,141"/>
<path class="cl" d="M4329,179 L4220,214"/>
<path class="a" d="M4145,188 L4145,201"/>
<path class="a" d="M4145,273 L4145,288"/>

<path class="a" d="M4621,98 L4621,123"/><path class="a" d="M4621,169 L4621,193"/>
<path class="a" d="M4621,237 L4621,261"/>
<path class="cl" d="M4746,313 L4661,355"/>
<path class="a" d="M4621,320 L4621,346"/>
<path class="cl" d="M4796,386 L4796,464"/>
<path class="ag" d="M4657,397 L4765,464"/><text class="y" x="4727" y="433">Yes</text>
<path class="ar" d="M4621,407 L4621,449"/><text class="r" x="4627" y="433">No</text>
<path class="ag" d="M4635,512 L4655,552"/><text class="y" x="4657" y="536">Yes</text>
<path class="ar" d="M4577,502 C4515,550 4505,625 4653,647"/><text class="r" x="4537" y="585">No</text>
<path class="a" d="M4671,610 L4671,634"/>
<path class="a" d="M4798,496 C4810,580 4760,632 4686,648"/>

<path class="a" d="M6227,117 L6227,141"/><path class="a" d="M6227,201 L6227,224"/>
<path class="cl" d="M6350,258 L6296,280"/>
<path class="a" d="M6227,256 L6227,280"/><path class="a" d="M6227,339 L6227,362"/>
<path class="a" d="M6227,394 L6227,419"/><path class="a" d="M6227,599 L6227,621"/>
<path class="lp" d="M6312,676 C6400,690 6445,720 6446,757"/><text class="el" x="6441" y="728">End LOOP</text>
<path class="cl" d="M6073,680 L6176,743"/>
<path class="ap" d="M6227,704 L6227,743"/>
<path class="a" d="M6113,802 L5984,836"/>
<path class="ag" d="M5902,847 C5700,858 5400,870 5166,902"/><text class="y" x="5495" y="888">Yes</text>
<path class="ar" d="M5950,864 L5950,911"/><text class="r" x="5963" y="888">No</text>
<path class="ar" d="M5950,941 L5950,974"/>
<path class="cl" d="M6154,1040 L6046,1096"/>
<path class="lp" d="M5844,1018 C5650,1045 5500,1090 5499,1221"/><text class="el" x="5517" y="1142">End LOOP</text>
<path class="ap" d="M5950,1055 L5950,1097"/>
<path class="a" d="M5928,1181 L5888,1266"/>
<path class="cl" d="M6116,1307 L6044,1385"/>
<path class="ag" d="M5895,1302 L5982,1387"/><text class="y" x="5977" y="1370">Yes</text>
<path class="ar" d="M5865,1302 C5830,1370 5828,1450 5828,1586 C5828,1660 5950,1715 6045,1724"/><text class="r" x="5832" y="1519">No</text>
<path class="cl" d="M6176,1429 L6116,1485"/>
<path class="a" d="M6037,1445 L6062,1485"/>
<path class="cl" d="M5935,1524 L6035,1590"/>
<path class="a" d="M6079,1544 L6073,1590"/>
<path class="a" d="M6071,1636 L6071,1720"/>
<path class="cl" d="M6158,1740 C6100,1780 6000,1790 5736,1822"/>
<path class="at" d="M6065,1718 C6200,1620 6296,1450 6296,1300 C6296,1150 6200,1080 6030,1047"/>
<path class="at" d="M5410,1894 L5600,1887 C5900,1860 6050,1780 6120,1680 C6300,1480 6400,1300 6410,1050 C6413,800 6400,700 6316,680"/>
<path class="cl" d="M5200,944 L5102,1002"/>
<path class="a" d="M5084,950 L5084,996"/>
<path class="ag" d="M5084,1035 L5084,1106"/><text class="y" x="5099" y="1081">Yes</text>
<path class="ar" d="M5044,1019 C4900,1040 4776,1100 4776,1150 C4776,1190 4810,1222 4838,1255"/><text class="r" x="4795" y="1142">No</text>
<path class="cl" d="M5294,1163 L5124,1255"/>
<path class="ap" d="M5084,1171 L5084,1255"/>
<path class="lp" d="M5037,1173 L4932,1255"/><text class="el" x="5020" y="1206">End LOOP</text>
<path class="cl" d="M4889,1154 L4889,1255"/>
<path class="cl" d="M5254,1293 L5245,1387"/>
<path class="a" d="M5120,1313 L5204,1387"/>
<path class="cl" d="M5410,1427 L5358,1493"/>
<path class="a" d="M5271,1446 L5316,1493"/>
<path class="a" d="M5343,1493 C5343,1350 5343,1250 5300,1215 C5250,1180 5190,1175 5146,1167"/>
<path class="a" d="M4889,1313 L4889,1397"/>
<path class="cl" d="M4644,1432 L4679,1485"/>
<path class="ag" d="M4862,1430 L4758,1485"/><text class="y" x="4825" y="1470">Yes</text>
<path class="ar" d="M4919,1430 C5000,1500 5090,1580 5097,1684"/><text class="r" x="5084" y="1569">No</text>
<path class="cl" d="M4847,1524 L4740,1590"/>
<path class="a" d="M4702,1544 L4702,1590"/>
<path class="a" d="M4776,1636 L5021,1710"/>
<path class="cl" d="M5026,1644 L5060,1691"/>
<path class="ag" d="M5112,1765 L5142,1820"/><text class="y" x="5154" y="1797">Yes</text>
<path class="ar" d="M5146,1753 C5200,1800 5250,1840 5282,1882"/><text class="r" x="5276" y="1840">No</text>
<path class="a" d="M5193,1852 L5256,1882"/>
<path class="cl" d="M5643,1154 L5570,1221"/>
<path class="a" d="M5535,1345 L5554,1387"/>
<path class="cl" d="M5669,1315 L5604,1387"/>
<path class="a" d="M5600,1446 L5638,1498"/>
<path class="cl" d="M5716,1439 L5667,1498"/>
<path class="a" d="M5618,1530 L5392,1600"/>
<path class="cl" d="M5616,1637 L5553,1699"/>
<path class="ag" d="M5396,1630 L5481,1699"/><text class="y" x="5453" y="1666">Yes</text>
<path class="ar" d="M5365,1632 C5330,1720 5300,1800 5291,1882"/><text class="r" x="5317" y="1797">No</text>
<path class="a" d="M5520,1758 L5520,1813"/>
<path class="a" d="M5437,1858 L5352,1882"/>

<path class="a" d="M6830,98 L6830,122"/><path class="a" d="M6830,144 L6830,165"/>
<path class="a" d="M6830,210 L6830,234"/><path class="a" d="M6830,362 L6830,384"/>
<path class="cl" d="M6993,432 L6895,489"/>
<path class="lp" d="M6772,449 C6745,470 6722,490 6719,509"/><text class="el" x="6772" y="473">End LOOP</text>
<path class="ap" d="M6830,467 L6830,489"/>
<path class="cl" d="M6668,541 L6752,584"/>
<path class="a" d="M6830,560 L6830,584"/>
<path class="cl" d="M6674,623 L6799,673"/>
<path class="a" d="M6830,642 L6830,666"/>
<path class="ag" d="M6830,704 L6830,745"/><text class="y" x="6837" y="729">Yes</text>
<path class="ar" d="M6877,693 C6960,705 7030,730 7044,814"/><text class="r" x="7049" y="771">No</text>
<path class="cl" d="M6987,783 L7011,814"/>
<path class="a" d="M6892,789 L6955,814"/>
<path class="cl" d="M6924,858 L6987,896"/>
<path class="a" d="M7038,872 L7038,896"/>
<path class="a" d="M6959,954 C6900,965 6860,970 6837,979"/>
<path class="cl" d="M6744,949 L6744,979"/>
<path class="cl" d="M6895,1018 L6796,1062"/>
<path class="a" d="M6744,1037 L6744,1062"/>
<path class="a" d="M6580,1062 C6540,1040 6537,980 6537,900 L6537,560 C6537,480 6600,440 6738,426"/>

<path class="a" d="M7616,98 L7616,123"/><path class="a" d="M7616,194 L7616,219"/>
<path class="a" d="M7616,250 L7616,275"/><path class="a" d="M7616,415 L7616,437"/>
<path class="cl" d="M7771,485 L7678,541"/>
<path class="lp" d="M7558,501 C7540,520 7528,540 7520,561"/><text class="el" x="7555" y="525">End LOOP</text>
<path class="ap" d="M7616,501 L7616,541"/>
<path class="a" d="M7581,613 L7556,643"/>
<path class="cl" d="M7372,601 L7492,651"/>
<path class="cl" d="M7295,685 L7329,741"/>
<path class="cl" d="M7678,678 L7581,741"/>
<path class="ar" d="M7496,690 L7402,741"/><text class="r" x="7466" y="725">No</text>
<path class="ag" d="M7534,701 L7534,741"/><text class="y" x="7539" y="725">Yes</text>
<path class="cl" d="M7676,780 L7592,824"/>
<path class="a" d="M7534,800 L7534,824"/>
<path class="a" d="M7453,883 L7394,907"/>
<path class="a" d="M7348,800 L7348,907"/>
<path class="a" d="M7294,914 C7150,870 7134,800 7134,700 C7134,560 7200,480 7400,477 L7522,477"/>
</g>
</svg>
